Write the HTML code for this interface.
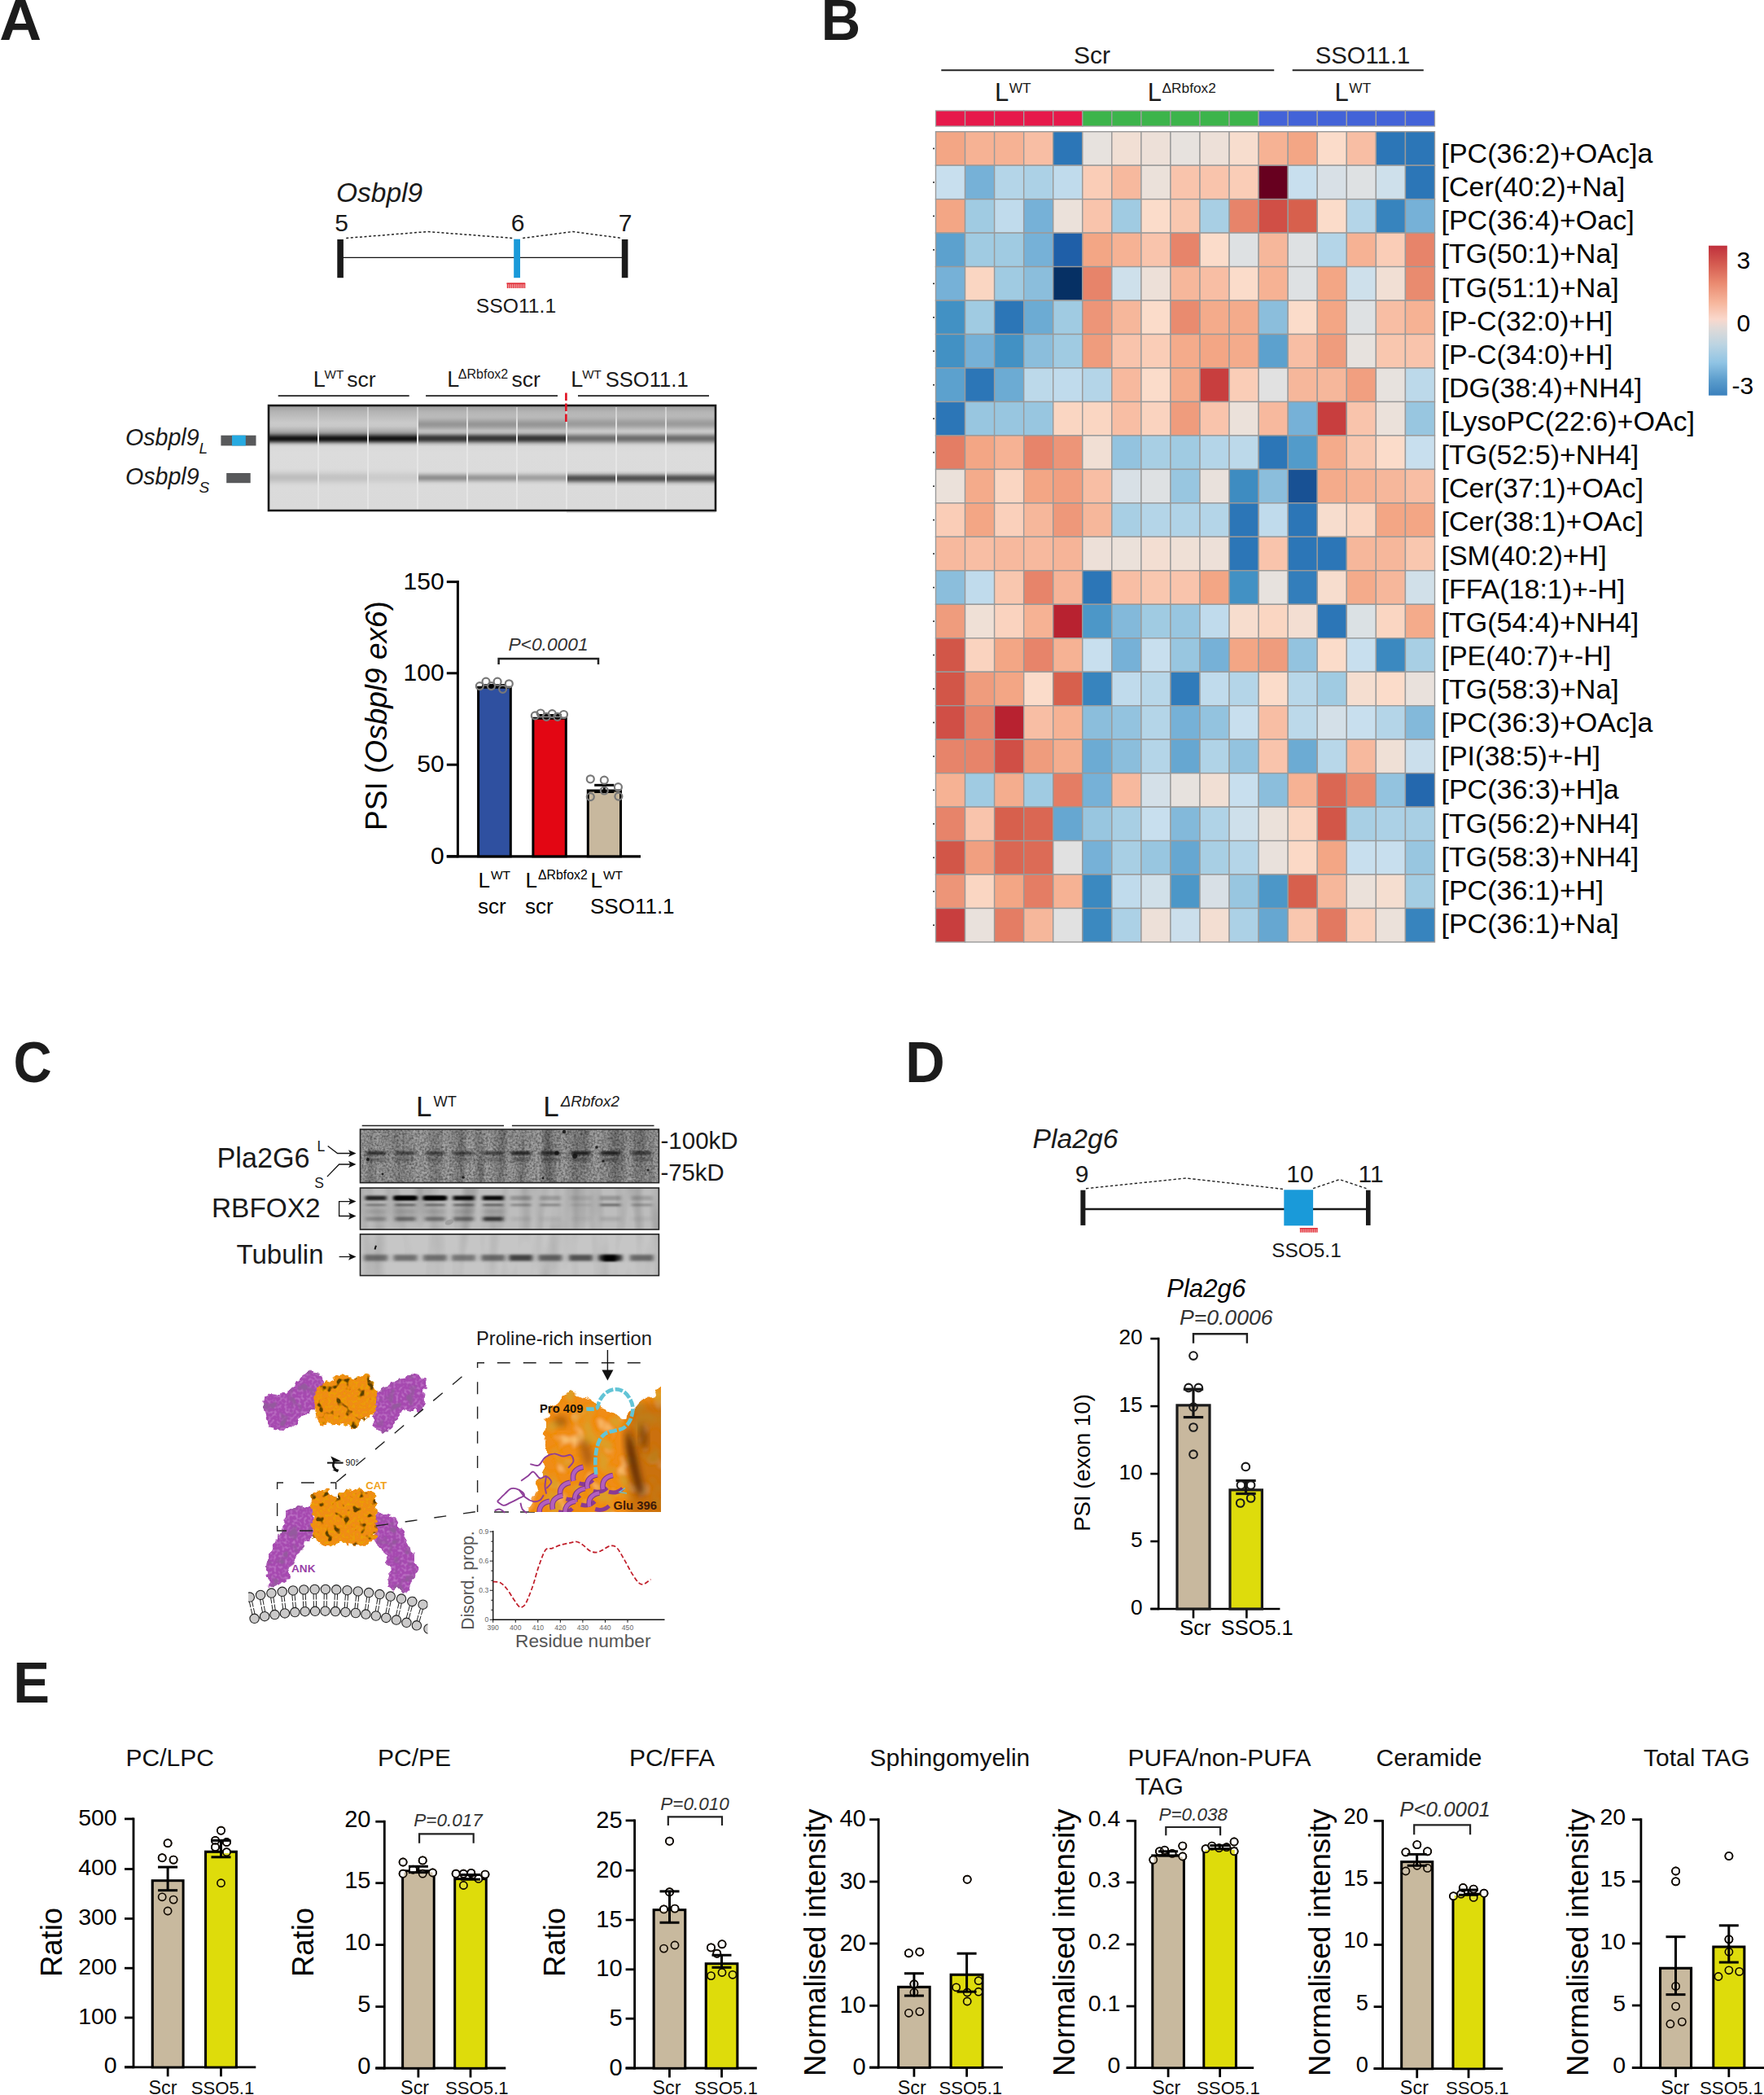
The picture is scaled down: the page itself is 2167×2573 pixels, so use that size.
<!DOCTYPE html>
<html><head><meta charset="utf-8"><title>Figure</title>
<style>html,body{margin:0;padding:0;background:#fff}svg{display:block}text{font-family:"Liberation Sans",sans-serif}</style>
</head><body>
<svg width="2167" height="2573" viewBox="0 0 2167 2573">
<rect width="2167" height="2573" fill="#fff"/>
<text transform="translate(-0.8 48.8) scale(1.005 1)" font-size="71.3" font-weight="bold" fill="#1c1c1c">A</text>
<text x="413" y="247.6" font-size="33.5" font-style="italic" fill="#1a1a1a">Osbpl9</text>
<text x="419.5" y="284" font-size="30" text-anchor="middle" fill="#1a1a1a">5</text>
<text x="636" y="284" font-size="30" text-anchor="middle" fill="#1a1a1a">6</text>
<text x="768" y="284" font-size="30" text-anchor="middle" fill="#1a1a1a">7</text>
<line x1="418" y1="316.3" x2="767" y2="316.3" stroke="#111" stroke-width="1.3"/>
<rect x="414.30" y="294.00" width="7.60" height="47.20" fill="#1a1a1a"/>
<rect x="763.80" y="294.00" width="7.60" height="47.20" fill="#1a1a1a"/>
<rect x="631.20" y="293.70" width="7.80" height="47.50" fill="#1a9ad9"/>
<path d="M425.2 292.5 L525.4 284.5 L629.9 292.5 M642.2 292.5 L703.6 284.5 L763.8 292.5" fill="none" stroke="#222" stroke-width="1.5" stroke-dasharray="3 2.6"/>
<rect x="622.50" y="347.40" width="22.70" height="6.40" fill="#f4a6a8"/>
<rect x="622.50" y="347.40" width="22.70" height="1.60" fill="#e0303a"/>
<rect x="623.00" y="348.00" width="1.10" height="6.00" fill="#e0303a"/>
<rect x="625.35" y="348.00" width="1.10" height="6.00" fill="#e0303a"/>
<rect x="627.70" y="348.00" width="1.10" height="6.00" fill="#e0303a"/>
<rect x="630.05" y="348.00" width="1.10" height="6.00" fill="#e0303a"/>
<rect x="632.40" y="348.00" width="1.10" height="6.00" fill="#e0303a"/>
<rect x="634.75" y="348.00" width="1.10" height="6.00" fill="#e0303a"/>
<rect x="637.10" y="348.00" width="1.10" height="6.00" fill="#e0303a"/>
<rect x="639.45" y="348.00" width="1.10" height="6.00" fill="#e0303a"/>
<rect x="641.80" y="348.00" width="1.10" height="6.00" fill="#e0303a"/>
<rect x="644.15" y="348.00" width="1.10" height="6.00" fill="#e0303a"/>
<text x="634" y="384" font-size="24.7" text-anchor="middle" fill="#1a1a1a">SSO11.1</text>
<text x="384.7" y="474.8" font-size="27" fill="#1a1a1a">L</text>
<text x="398.6" y="464.8" font-size="15.2" fill="#1a1a1a">WT</text>
<text x="426.3" y="474.8" font-size="26.5" fill="#1a1a1a">scr</text>
<text x="549.3" y="474.8" font-size="27" fill="#1a1a1a">L</text>
<text x="562.8" y="464.8" font-size="16" fill="#1a1a1a">ΔRbfox2</text>
<text x="628.6" y="474.8" font-size="26.5" fill="#1a1a1a">scr</text>
<text x="701.3" y="474.8" font-size="27" fill="#1a1a1a">L</text>
<text x="715.2" y="464.8" font-size="15.2" fill="#1a1a1a">WT</text>
<text x="743.7" y="474.8" font-size="25.6" fill="#1a1a1a">SSO11.1</text>
<line x1="341.7" y1="486.2" x2="502.7" y2="486.2" stroke="#222" stroke-width="1.8"/>
<line x1="523.1" y1="486.2" x2="685" y2="486.2" stroke="#222" stroke-width="1.8"/>
<line x1="710" y1="486.2" x2="871" y2="486.2" stroke="#222" stroke-width="1.8"/>
<defs>
<linearGradient id="gelbg" x1="0" y1="0" x2="0" y2="1">
<stop offset="0" stop-color="#9c9c9c"/><stop offset="0.06" stop-color="#b4b4b4"/><stop offset="0.2" stop-color="#d2d2d2"/><stop offset="0.45" stop-color="#dcdcdc"/><stop offset="1" stop-color="#dadada"/></linearGradient>
<filter id="bl2" x="-5%" y="-200%" width="110%" height="500%"><feGaussianBlur stdDeviation="0 2.6"/></filter>
<filter id="bl3" x="-5%" y="-200%" width="110%" height="500%"><feGaussianBlur stdDeviation="0 3.6"/></filter>
</defs>
<rect x="330.00" y="498.00" width="549.00" height="129.00" fill="url(#gelbg)"/>
<rect x="696.00" y="627.00" width="183.00" height="3.00" fill="#e4e4e4"/>
<g clip-path="none">
<rect x="331.00" y="534.00" width="59.00" height="9.00" fill="#000" opacity="1.0" filter="url(#bl2)"/>
<rect x="331.00" y="526.00" width="59.00" height="10.00" fill="#555" opacity="0.35" filter="url(#bl3)"/>
<rect x="331.00" y="582.00" width="59.00" height="9.00" fill="#9a9a9a" opacity="0.55" filter="url(#bl3)"/>
<rect x="392.00" y="534.00" width="59.00" height="9.00" fill="#000" opacity="1.0" filter="url(#bl2)"/>
<rect x="392.00" y="526.00" width="59.00" height="10.00" fill="#555" opacity="0.35" filter="url(#bl3)"/>
<rect x="392.00" y="582.00" width="59.00" height="9.00" fill="#9a9a9a" opacity="0.45" filter="url(#bl3)"/>
<rect x="453.00" y="534.00" width="59.00" height="9.00" fill="#000" opacity="1.0" filter="url(#bl2)"/>
<rect x="453.00" y="526.00" width="59.00" height="10.00" fill="#555" opacity="0.35" filter="url(#bl3)"/>
<rect x="453.00" y="582.00" width="59.00" height="9.00" fill="#9a9a9a" opacity="0.3" filter="url(#bl3)"/>
<rect x="514.00" y="516.50" width="59.00" height="10.00" fill="#777" opacity="0.75" filter="url(#bl3)"/>
<rect x="514.00" y="534.00" width="59.00" height="9.00" fill="#222" opacity="0.95" filter="url(#bl2)"/>
<rect x="514.00" y="583.30" width="59.00" height="7.00" fill="#777" opacity="0.9" filter="url(#bl2)"/>
<rect x="575.00" y="516.50" width="59.00" height="10.00" fill="#777" opacity="0.75" filter="url(#bl3)"/>
<rect x="575.00" y="534.00" width="59.00" height="9.00" fill="#222" opacity="0.95" filter="url(#bl2)"/>
<rect x="575.00" y="583.30" width="59.00" height="7.00" fill="#777" opacity="0.8" filter="url(#bl2)"/>
<rect x="636.00" y="516.50" width="59.00" height="10.00" fill="#777" opacity="0.75" filter="url(#bl3)"/>
<rect x="636.00" y="534.00" width="59.00" height="9.00" fill="#222" opacity="0.95" filter="url(#bl2)"/>
<rect x="636.00" y="583.30" width="59.00" height="7.00" fill="#777" opacity="0.7" filter="url(#bl2)"/>
<rect x="697.00" y="515.50" width="59.00" height="10.00" fill="#808080" opacity="0.75" filter="url(#bl3)"/>
<rect x="697.00" y="534.00" width="59.00" height="9.00" fill="#5a5a5a" opacity="0.9" filter="url(#bl2)"/>
<rect x="697.00" y="583.50" width="59.00" height="8.00" fill="#333" opacity="0.92" filter="url(#bl2)"/>
<rect x="758.00" y="515.50" width="59.00" height="10.00" fill="#808080" opacity="0.75" filter="url(#bl3)"/>
<rect x="758.00" y="534.00" width="59.00" height="9.00" fill="#5a5a5a" opacity="0.9" filter="url(#bl2)"/>
<rect x="758.00" y="583.50" width="59.00" height="8.00" fill="#333" opacity="0.92" filter="url(#bl2)"/>
<rect x="819.00" y="515.50" width="59.00" height="10.00" fill="#808080" opacity="0.75" filter="url(#bl3)"/>
<rect x="819.00" y="534.00" width="59.00" height="9.00" fill="#5a5a5a" opacity="0.9" filter="url(#bl2)"/>
<rect x="819.00" y="583.50" width="59.00" height="8.00" fill="#333" opacity="0.92" filter="url(#bl2)"/>
</g>
<line x1="391.0" y1="500" x2="391.0" y2="627" stroke="#f0f0f0" stroke-width="1.2" opacity="0.85"/>
<line x1="452.0" y1="500" x2="452.0" y2="627" stroke="#f0f0f0" stroke-width="1.2" opacity="0.85"/>
<line x1="513.0" y1="500" x2="513.0" y2="627" stroke="#f0f0f0" stroke-width="1.2" opacity="0.85"/>
<line x1="574.0" y1="500" x2="574.0" y2="627" stroke="#f0f0f0" stroke-width="1.2" opacity="0.85"/>
<line x1="635.0" y1="500" x2="635.0" y2="627" stroke="#f0f0f0" stroke-width="1.2" opacity="0.85"/>
<line x1="696.0" y1="500" x2="696.0" y2="627" stroke="#f0f0f0" stroke-width="1.2" opacity="0.85"/>
<line x1="757.0" y1="500" x2="757.0" y2="627" stroke="#f0f0f0" stroke-width="1.2" opacity="0.85"/>
<line x1="818.0" y1="500" x2="818.0" y2="627" stroke="#f0f0f0" stroke-width="1.2" opacity="0.85"/>
<rect x="330.00" y="498.00" width="549.00" height="129.00" fill="none" stroke="#1a1a1a" stroke-width="2.6"/>
<line x1="695.4" y1="482.5" x2="695.4" y2="518" stroke="#e01020" stroke-width="2.6" stroke-dasharray="9.5 3.5"/>
<text x="154" y="546.5" font-size="28.6" font-style="italic" fill="#1a1a1a">Osbpl9<tspan font-size="19" dy="10">L</tspan></text>
<text x="154" y="595" font-size="28.6" font-style="italic" fill="#1a1a1a">Osbpl9<tspan font-size="19" dy="10">S</tspan></text>
<rect x="271.40" y="534.70" width="43.10" height="12.70" fill="#58595b"/>
<rect x="285.00" y="534.70" width="16.80" height="12.70" fill="#27aae1"/>
<rect x="278.20" y="581.00" width="29.50" height="12.20" fill="#58595b"/>
<line x1="562.4" y1="713.1" x2="562.4" y2="1053.3" stroke="#000" stroke-width="3"/>
<line x1="548.8" y1="1051.8" x2="787" y2="1051.8" stroke="#000" stroke-width="3.2"/>
<line x1="548.8" y1="714.6" x2="562.4" y2="714.6" stroke="#000" stroke-width="3"/>
<text x="545.6" y="723.65" font-size="30" text-anchor="end" fill="#000">150</text>
<line x1="548.8" y1="826.8" x2="562.4" y2="826.8" stroke="#000" stroke-width="3"/>
<text x="545.6" y="835.8499999999999" font-size="30" text-anchor="end" fill="#000">100</text>
<line x1="548.8" y1="939.2" x2="562.4" y2="939.2" stroke="#000" stroke-width="3"/>
<text x="545.6" y="948.25" font-size="30" text-anchor="end" fill="#000">50</text>
<line x1="548.8" y1="1051.8" x2="562.4" y2="1051.8" stroke="#000" stroke-width="3"/>
<text x="545.6" y="1060.85" font-size="30" text-anchor="end" fill="#000">0</text>
<rect x="587.60" y="844.20" width="39.70" height="207.60" fill="#2f50a0" stroke="#000" stroke-width="3"/>
<rect x="654.90" y="882.20" width="40.40" height="169.60" fill="#e30613" stroke="#000" stroke-width="3"/>
<rect x="722.30" y="971.00" width="40.20" height="80.80" fill="#c8b89e" stroke="#000" stroke-width="3"/>
<line x1="742.3" y1="964.3" x2="742.3" y2="972" stroke="#000" stroke-width="3"/>
<line x1="730.2" y1="964.3" x2="754.3" y2="964.3" stroke="#000" stroke-width="3"/>
<line x1="730.2" y1="972.5" x2="754.3" y2="972.5" stroke="#000" stroke-width="3"/>
<line x1="592" y1="841.5" x2="622" y2="841.5" stroke="#000" stroke-width="3"/>
<line x1="660" y1="878.5" x2="690" y2="878.5" stroke="#000" stroke-width="3"/>
<circle cx="589.3" cy="842.6" r="4.5" fill="none" stroke="#787878" stroke-width="2.2"/>
<circle cx="597.0" cy="837.2" r="4.5" fill="none" stroke="#787878" stroke-width="2.2"/>
<circle cx="603.5" cy="842.6" r="4.5" fill="none" stroke="#787878" stroke-width="2.2"/>
<circle cx="611.1" cy="837.2" r="4.5" fill="none" stroke="#787878" stroke-width="2.2"/>
<circle cx="617.6" cy="846.3" r="4.5" fill="none" stroke="#787878" stroke-width="2.2"/>
<circle cx="625.3" cy="839.8" r="4.5" fill="none" stroke="#787878" stroke-width="2.2"/>
<circle cx="657.3" cy="878.9" r="4.5" fill="none" stroke="#787878" stroke-width="2.2"/>
<circle cx="664.1" cy="876.0" r="4.5" fill="none" stroke="#787878" stroke-width="2.2"/>
<circle cx="671.2" cy="880.3" r="4.5" fill="none" stroke="#787878" stroke-width="2.2"/>
<circle cx="678.3" cy="876.6" r="4.5" fill="none" stroke="#787878" stroke-width="2.2"/>
<circle cx="684.8" cy="880.3" r="4.5" fill="none" stroke="#787878" stroke-width="2.2"/>
<circle cx="692.5" cy="877.5" r="4.5" fill="none" stroke="#787878" stroke-width="2.2"/>
<circle cx="725.3" cy="956.8" r="4.5" fill="none" stroke="#787878" stroke-width="2.2"/>
<circle cx="742.3" cy="958.2" r="4.5" fill="none" stroke="#787878" stroke-width="2.2"/>
<circle cx="759.4" cy="966.7" r="4.5" fill="none" stroke="#787878" stroke-width="2.2"/>
<circle cx="742.3" cy="971.0" r="4.5" fill="none" stroke="#787878" stroke-width="2.2"/>
<circle cx="725.3" cy="978.6" r="4.5" fill="none" stroke="#787878" stroke-width="2.2"/>
<circle cx="759.9" cy="978.1" r="4.5" fill="none" stroke="#787878" stroke-width="2.2"/>
<path d="M612.6 816 V809 H735 V816" fill="none" stroke="#222" stroke-width="2.5"/>
<text x="673.5" y="798.5" font-size="22.8" text-anchor="middle" font-style="italic" fill="#333">P&lt;0.0001</text>
<text transform="translate(475 879) rotate(-90)" font-size="37" text-anchor="middle" fill="#000">PSI (<tspan font-style="italic">Osbpl9 ex6</tspan>)</text>
<text x="587.5" y="1089.8" font-size="26" fill="#000">L<tspan font-size="15.5" dy="-9.6" dx="1">WT</tspan></text>
<text x="587.0" y="1122" font-size="26" fill="#000">scr</text>
<text x="645.6" y="1089.8" font-size="26" fill="#000">L<tspan font-size="15.8" dy="-9.6" dx="1">ΔRbfox2</tspan></text>
<text x="645.1" y="1122" font-size="26" fill="#000">scr</text>
<text x="725.5" y="1089.8" font-size="26" fill="#000">L<tspan font-size="15.5" dy="-9.6" dx="1">WT</tspan></text>
<text x="725.0" y="1122" font-size="26" fill="#000">SSO11.1</text>

<text transform="translate(1008.7 48.8) scale(0.94 1)" font-size="71.3" font-weight="bold" fill="#1c1c1c">B</text>
<text x="1341.5" y="77.9" font-size="30" text-anchor="middle" fill="#1a1a1a">Scr</text>
<text x="1674" y="77.9" font-size="29.3" text-anchor="middle" fill="#1a1a1a">SSO11.1</text>
<line x1="1156.3" y1="86.2" x2="1565.2" y2="86.2" stroke="#222" stroke-width="2"/>
<line x1="1587.7" y1="86.2" x2="1748.8" y2="86.2" stroke="#222" stroke-width="2"/>
<text x="1222" y="124.3" font-size="31" fill="#1a1a1a">L<tspan font-size="17.3" dy="-10.2" dx="0.5">WT</tspan></text>
<text x="1409.8" y="124.3" font-size="31" fill="#1a1a1a">L<tspan font-size="17.3" dy="-10.2" dx="0.5">ΔRbfox2</tspan></text>
<text x="1639.6" y="124.3" font-size="31" fill="#1a1a1a">L<tspan font-size="17.3" dy="-10.2" dx="0.5">WT</tspan></text>
<g stroke="#a0a0a0" stroke-width="1.3">
<rect x="1149.50" y="136.00" width="36.06" height="19.00" fill="#e6194b"/>
<rect x="1185.56" y="136.00" width="36.06" height="19.00" fill="#e6194b"/>
<rect x="1221.62" y="136.00" width="36.06" height="19.00" fill="#e6194b"/>
<rect x="1257.68" y="136.00" width="36.06" height="19.00" fill="#e6194b"/>
<rect x="1293.74" y="136.00" width="36.06" height="19.00" fill="#e6194b"/>
<rect x="1329.79" y="136.00" width="36.06" height="19.00" fill="#3cb44b"/>
<rect x="1365.85" y="136.00" width="36.06" height="19.00" fill="#3cb44b"/>
<rect x="1401.91" y="136.00" width="36.06" height="19.00" fill="#3cb44b"/>
<rect x="1437.97" y="136.00" width="36.06" height="19.00" fill="#3cb44b"/>
<rect x="1474.03" y="136.00" width="36.06" height="19.00" fill="#3cb44b"/>
<rect x="1510.09" y="136.00" width="36.06" height="19.00" fill="#3cb44b"/>
<rect x="1546.15" y="136.00" width="36.06" height="19.00" fill="#4363d8"/>
<rect x="1582.21" y="136.00" width="36.06" height="19.00" fill="#4363d8"/>
<rect x="1618.26" y="136.00" width="36.06" height="19.00" fill="#4363d8"/>
<rect x="1654.32" y="136.00" width="36.06" height="19.00" fill="#4363d8"/>
<rect x="1690.38" y="136.00" width="36.06" height="19.00" fill="#4363d8"/>
<rect x="1726.44" y="136.00" width="36.06" height="19.00" fill="#4363d8"/>
</g>
<g stroke="#9a9a9a" stroke-width="1.4">
<rect x="1149.50" y="161.70" width="36.06" height="41.47" fill="#f3a685"/>
<rect x="1185.56" y="161.70" width="36.06" height="41.47" fill="#f6b294"/>
<rect x="1221.62" y="161.70" width="36.06" height="41.47" fill="#f6b294"/>
<rect x="1257.68" y="161.70" width="36.06" height="41.47" fill="#f8bea4"/>
<rect x="1293.74" y="161.70" width="36.06" height="41.47" fill="#2c76b7"/>
<rect x="1329.79" y="161.70" width="36.06" height="41.47" fill="#e7e2de"/>
<rect x="1365.85" y="161.70" width="36.06" height="41.47" fill="#f1dfd4"/>
<rect x="1401.91" y="161.70" width="36.06" height="41.47" fill="#ede0d8"/>
<rect x="1437.97" y="161.70" width="36.06" height="41.47" fill="#e7e2de"/>
<rect x="1474.03" y="161.70" width="36.06" height="41.47" fill="#ede0d8"/>
<rect x="1510.09" y="161.70" width="36.06" height="41.47" fill="#f7ddce"/>
<rect x="1546.15" y="161.70" width="36.06" height="41.47" fill="#f6b294"/>
<rect x="1582.21" y="161.70" width="36.06" height="41.47" fill="#f3a685"/>
<rect x="1618.26" y="161.70" width="36.06" height="41.47" fill="#fbdcca"/>
<rect x="1654.32" y="161.70" width="36.06" height="41.47" fill="#f8bea4"/>
<rect x="1690.38" y="161.70" width="36.06" height="41.47" fill="#2c76b7"/>
<rect x="1726.44" y="161.70" width="36.06" height="41.47" fill="#2c76b7"/>
<rect x="1149.50" y="203.17" width="36.06" height="41.47" fill="#c8dfee"/>
<rect x="1185.56" y="203.17" width="36.06" height="41.47" fill="#76b1d7"/>
<rect x="1221.62" y="203.17" width="36.06" height="41.47" fill="#b4d5e8"/>
<rect x="1257.68" y="203.17" width="36.06" height="41.47" fill="#acd1e6"/>
<rect x="1293.74" y="203.17" width="36.06" height="41.47" fill="#c0dbec"/>
<rect x="1329.79" y="203.17" width="36.06" height="41.47" fill="#facdb7"/>
<rect x="1365.85" y="203.17" width="36.06" height="41.47" fill="#f7b99e"/>
<rect x="1401.91" y="203.17" width="36.06" height="41.47" fill="#ebe1da"/>
<rect x="1437.97" y="203.17" width="36.06" height="41.47" fill="#f9c4ac"/>
<rect x="1474.03" y="203.17" width="36.06" height="41.47" fill="#f9c4ac"/>
<rect x="1510.09" y="203.17" width="36.06" height="41.47" fill="#facdb7"/>
<rect x="1546.15" y="203.17" width="36.06" height="41.47" fill="#67001f"/>
<rect x="1582.21" y="203.17" width="36.06" height="41.47" fill="#c8dfee"/>
<rect x="1618.26" y="203.17" width="36.06" height="41.47" fill="#d8e0e6"/>
<rect x="1654.32" y="203.17" width="36.06" height="41.47" fill="#dee1e3"/>
<rect x="1690.38" y="203.17" width="36.06" height="41.47" fill="#cee0eb"/>
<rect x="1726.44" y="203.17" width="36.06" height="41.47" fill="#2c76b7"/>
<rect x="1149.50" y="244.64" width="36.06" height="41.47" fill="#f3a685"/>
<rect x="1185.56" y="244.64" width="36.06" height="41.47" fill="#a0cbe2"/>
<rect x="1221.62" y="244.64" width="36.06" height="41.47" fill="#c0dbec"/>
<rect x="1257.68" y="244.64" width="36.06" height="41.47" fill="#76b1d7"/>
<rect x="1293.74" y="244.64" width="36.06" height="41.47" fill="#ebe1da"/>
<rect x="1329.79" y="244.64" width="36.06" height="41.47" fill="#f9c4ac"/>
<rect x="1365.85" y="244.64" width="36.06" height="41.47" fill="#a0cbe2"/>
<rect x="1401.91" y="244.64" width="36.06" height="41.47" fill="#fbdcca"/>
<rect x="1437.97" y="244.64" width="36.06" height="41.47" fill="#f9c7af"/>
<rect x="1474.03" y="244.64" width="36.06" height="41.47" fill="#a8cfe4"/>
<rect x="1510.09" y="244.64" width="36.06" height="41.47" fill="#e7846a"/>
<rect x="1546.15" y="244.64" width="36.06" height="41.47" fill="#d04f46"/>
<rect x="1582.21" y="244.64" width="36.06" height="41.47" fill="#d7604d"/>
<rect x="1618.26" y="244.64" width="36.06" height="41.47" fill="#fbdcca"/>
<rect x="1654.32" y="244.64" width="36.06" height="41.47" fill="#b4d5e8"/>
<rect x="1690.38" y="244.64" width="36.06" height="41.47" fill="#3784be"/>
<rect x="1726.44" y="244.64" width="36.06" height="41.47" fill="#76b1d7"/>
<rect x="1149.50" y="286.11" width="36.06" height="41.47" fill="#5ca1ce"/>
<rect x="1185.56" y="286.11" width="36.06" height="41.47" fill="#a0cbe2"/>
<rect x="1221.62" y="286.11" width="36.06" height="41.47" fill="#a0cbe2"/>
<rect x="1257.68" y="286.11" width="36.06" height="41.47" fill="#76b1d7"/>
<rect x="1293.74" y="286.11" width="36.06" height="41.47" fill="#1f5fa8"/>
<rect x="1329.79" y="286.11" width="36.06" height="41.47" fill="#f3a685"/>
<rect x="1365.85" y="286.11" width="36.06" height="41.47" fill="#f6b294"/>
<rect x="1401.91" y="286.11" width="36.06" height="41.47" fill="#f9c4ac"/>
<rect x="1437.97" y="286.11" width="36.06" height="41.47" fill="#e7846a"/>
<rect x="1474.03" y="286.11" width="36.06" height="41.47" fill="#fbdcca"/>
<rect x="1510.09" y="286.11" width="36.06" height="41.47" fill="#dee1e3"/>
<rect x="1546.15" y="286.11" width="36.06" height="41.47" fill="#f6b79b"/>
<rect x="1582.21" y="286.11" width="36.06" height="41.47" fill="#dee1e3"/>
<rect x="1618.26" y="286.11" width="36.06" height="41.47" fill="#b4d5e8"/>
<rect x="1654.32" y="286.11" width="36.06" height="41.47" fill="#f6b294"/>
<rect x="1690.38" y="286.11" width="36.06" height="41.47" fill="#facdb7"/>
<rect x="1726.44" y="286.11" width="36.06" height="41.47" fill="#e7846a"/>
<rect x="1149.50" y="327.58" width="36.06" height="41.47" fill="#76b1d7"/>
<rect x="1185.56" y="327.58" width="36.06" height="41.47" fill="#fad6c2"/>
<rect x="1221.62" y="327.58" width="36.06" height="41.47" fill="#a0cbe2"/>
<rect x="1257.68" y="327.58" width="36.06" height="41.47" fill="#8bbedc"/>
<rect x="1293.74" y="327.58" width="36.06" height="41.47" fill="#063064"/>
<rect x="1329.79" y="327.58" width="36.06" height="41.47" fill="#e7846a"/>
<rect x="1365.85" y="327.58" width="36.06" height="41.47" fill="#cee0eb"/>
<rect x="1401.91" y="327.58" width="36.06" height="41.47" fill="#ede0d8"/>
<rect x="1437.97" y="327.58" width="36.06" height="41.47" fill="#f6b79b"/>
<rect x="1474.03" y="327.58" width="36.06" height="41.47" fill="#f8bea4"/>
<rect x="1510.09" y="327.58" width="36.06" height="41.47" fill="#fbdcca"/>
<rect x="1546.15" y="327.58" width="36.06" height="41.47" fill="#f6b294"/>
<rect x="1582.21" y="327.58" width="36.06" height="41.47" fill="#dee1e3"/>
<rect x="1618.26" y="327.58" width="36.06" height="41.47" fill="#f3a685"/>
<rect x="1654.32" y="327.58" width="36.06" height="41.47" fill="#cee0eb"/>
<rect x="1690.38" y="327.58" width="36.06" height="41.47" fill="#f1dfd4"/>
<rect x="1726.44" y="327.58" width="36.06" height="41.47" fill="#e98b6f"/>
<rect x="1149.50" y="369.05" width="36.06" height="41.47" fill="#4291c4"/>
<rect x="1185.56" y="369.05" width="36.06" height="41.47" fill="#a0cbe2"/>
<rect x="1221.62" y="369.05" width="36.06" height="41.47" fill="#2c76b7"/>
<rect x="1257.68" y="369.05" width="36.06" height="41.47" fill="#6cabd3"/>
<rect x="1293.74" y="369.05" width="36.06" height="41.47" fill="#a0cbe2"/>
<rect x="1329.79" y="369.05" width="36.06" height="41.47" fill="#ed9578"/>
<rect x="1365.85" y="369.05" width="36.06" height="41.47" fill="#f6b79b"/>
<rect x="1401.91" y="369.05" width="36.06" height="41.47" fill="#fbdcca"/>
<rect x="1437.97" y="369.05" width="36.06" height="41.47" fill="#e98b6f"/>
<rect x="1474.03" y="369.05" width="36.06" height="41.47" fill="#f4ab8b"/>
<rect x="1510.09" y="369.05" width="36.06" height="41.47" fill="#f4ab8b"/>
<rect x="1546.15" y="369.05" width="36.06" height="41.47" fill="#8bbedc"/>
<rect x="1582.21" y="369.05" width="36.06" height="41.47" fill="#fbdcca"/>
<rect x="1618.26" y="369.05" width="36.06" height="41.47" fill="#f3a685"/>
<rect x="1654.32" y="369.05" width="36.06" height="41.47" fill="#dee1e3"/>
<rect x="1690.38" y="369.05" width="36.06" height="41.47" fill="#f8bea4"/>
<rect x="1726.44" y="369.05" width="36.06" height="41.47" fill="#f6b294"/>
<rect x="1149.50" y="410.52" width="36.06" height="41.47" fill="#4291c4"/>
<rect x="1185.56" y="410.52" width="36.06" height="41.47" fill="#76b1d7"/>
<rect x="1221.62" y="410.52" width="36.06" height="41.47" fill="#4291c4"/>
<rect x="1257.68" y="410.52" width="36.06" height="41.47" fill="#8bbedc"/>
<rect x="1293.74" y="410.52" width="36.06" height="41.47" fill="#a0cbe2"/>
<rect x="1329.79" y="410.52" width="36.06" height="41.47" fill="#ef9c7d"/>
<rect x="1365.85" y="410.52" width="36.06" height="41.47" fill="#f9c4ac"/>
<rect x="1401.91" y="410.52" width="36.06" height="41.47" fill="#facdb7"/>
<rect x="1437.97" y="410.52" width="36.06" height="41.47" fill="#f4ab8b"/>
<rect x="1474.03" y="410.52" width="36.06" height="41.47" fill="#f3a685"/>
<rect x="1510.09" y="410.52" width="36.06" height="41.47" fill="#f4ab8b"/>
<rect x="1546.15" y="410.52" width="36.06" height="41.47" fill="#5ca1ce"/>
<rect x="1582.21" y="410.52" width="36.06" height="41.47" fill="#f8bea4"/>
<rect x="1618.26" y="410.52" width="36.06" height="41.47" fill="#ef9c7d"/>
<rect x="1654.32" y="410.52" width="36.06" height="41.47" fill="#e7e2de"/>
<rect x="1690.38" y="410.52" width="36.06" height="41.47" fill="#f9c7af"/>
<rect x="1726.44" y="410.52" width="36.06" height="41.47" fill="#f9c4ac"/>
<rect x="1149.50" y="452.00" width="36.06" height="41.47" fill="#5ca1ce"/>
<rect x="1185.56" y="452.00" width="36.06" height="41.47" fill="#2c76b7"/>
<rect x="1221.62" y="452.00" width="36.06" height="41.47" fill="#6cabd3"/>
<rect x="1257.68" y="452.00" width="36.06" height="41.47" fill="#bcd9ea"/>
<rect x="1293.74" y="452.00" width="36.06" height="41.47" fill="#c0dbec"/>
<rect x="1329.79" y="452.00" width="36.06" height="41.47" fill="#b4d5e8"/>
<rect x="1365.85" y="452.00" width="36.06" height="41.47" fill="#f7b99e"/>
<rect x="1401.91" y="452.00" width="36.06" height="41.47" fill="#fbdcca"/>
<rect x="1437.97" y="452.00" width="36.06" height="41.47" fill="#f4ab8b"/>
<rect x="1474.03" y="452.00" width="36.06" height="41.47" fill="#c83e3e"/>
<rect x="1510.09" y="452.00" width="36.06" height="41.47" fill="#facdb7"/>
<rect x="1546.15" y="452.00" width="36.06" height="41.47" fill="#e1e1e1"/>
<rect x="1582.21" y="452.00" width="36.06" height="41.47" fill="#f6b79b"/>
<rect x="1618.26" y="452.00" width="36.06" height="41.47" fill="#f6b79b"/>
<rect x="1654.32" y="452.00" width="36.06" height="41.47" fill="#f19f80"/>
<rect x="1690.38" y="452.00" width="36.06" height="41.47" fill="#e7e2de"/>
<rect x="1726.44" y="452.00" width="36.06" height="41.47" fill="#bcd9ea"/>
<rect x="1149.50" y="493.47" width="36.06" height="41.47" fill="#2c76b7"/>
<rect x="1185.56" y="493.47" width="36.06" height="41.47" fill="#98c6e0"/>
<rect x="1221.62" y="493.47" width="36.06" height="41.47" fill="#98c6e0"/>
<rect x="1257.68" y="493.47" width="36.06" height="41.47" fill="#98c6e0"/>
<rect x="1293.74" y="493.47" width="36.06" height="41.47" fill="#fad6c2"/>
<rect x="1329.79" y="493.47" width="36.06" height="41.47" fill="#fad6c2"/>
<rect x="1365.85" y="493.47" width="36.06" height="41.47" fill="#f8bea4"/>
<rect x="1401.91" y="493.47" width="36.06" height="41.47" fill="#fad3bf"/>
<rect x="1437.97" y="493.47" width="36.06" height="41.47" fill="#ef9c7d"/>
<rect x="1474.03" y="493.47" width="36.06" height="41.47" fill="#f9c4ac"/>
<rect x="1510.09" y="493.47" width="36.06" height="41.47" fill="#ebe1da"/>
<rect x="1546.15" y="493.47" width="36.06" height="41.47" fill="#f7b99e"/>
<rect x="1582.21" y="493.47" width="36.06" height="41.47" fill="#76b1d7"/>
<rect x="1618.26" y="493.47" width="36.06" height="41.47" fill="#c83e3e"/>
<rect x="1654.32" y="493.47" width="36.06" height="41.47" fill="#f9c4ac"/>
<rect x="1690.38" y="493.47" width="36.06" height="41.47" fill="#ebe1da"/>
<rect x="1726.44" y="493.47" width="36.06" height="41.47" fill="#98c6e0"/>
<rect x="1149.50" y="534.94" width="36.06" height="41.47" fill="#e47d64"/>
<rect x="1185.56" y="534.94" width="36.06" height="41.47" fill="#f3a685"/>
<rect x="1221.62" y="534.94" width="36.06" height="41.47" fill="#f6b294"/>
<rect x="1257.68" y="534.94" width="36.06" height="41.47" fill="#e7846a"/>
<rect x="1293.74" y="534.94" width="36.06" height="41.47" fill="#ed9578"/>
<rect x="1329.79" y="534.94" width="36.06" height="41.47" fill="#f1dfd4"/>
<rect x="1365.85" y="534.94" width="36.06" height="41.47" fill="#93c3df"/>
<rect x="1401.91" y="534.94" width="36.06" height="41.47" fill="#a8cfe4"/>
<rect x="1437.97" y="534.94" width="36.06" height="41.47" fill="#a0cbe2"/>
<rect x="1474.03" y="534.94" width="36.06" height="41.47" fill="#b4d5e8"/>
<rect x="1510.09" y="534.94" width="36.06" height="41.47" fill="#bcd9ea"/>
<rect x="1546.15" y="534.94" width="36.06" height="41.47" fill="#2c76b7"/>
<rect x="1582.21" y="534.94" width="36.06" height="41.47" fill="#529bca"/>
<rect x="1618.26" y="534.94" width="36.06" height="41.47" fill="#f4ab8b"/>
<rect x="1654.32" y="534.94" width="36.06" height="41.47" fill="#f9c7af"/>
<rect x="1690.38" y="534.94" width="36.06" height="41.47" fill="#fbdcca"/>
<rect x="1726.44" y="534.94" width="36.06" height="41.47" fill="#c8dfee"/>
<rect x="1149.50" y="576.41" width="36.06" height="41.47" fill="#ebe1da"/>
<rect x="1185.56" y="576.41" width="36.06" height="41.47" fill="#f4ab8b"/>
<rect x="1221.62" y="576.41" width="36.06" height="41.47" fill="#fad6c2"/>
<rect x="1257.68" y="576.41" width="36.06" height="41.47" fill="#f3a685"/>
<rect x="1293.74" y="576.41" width="36.06" height="41.47" fill="#f19f80"/>
<rect x="1329.79" y="576.41" width="36.06" height="41.47" fill="#f8bea4"/>
<rect x="1365.85" y="576.41" width="36.06" height="41.47" fill="#d8e0e6"/>
<rect x="1401.91" y="576.41" width="36.06" height="41.47" fill="#dee1e3"/>
<rect x="1437.97" y="576.41" width="36.06" height="41.47" fill="#98c6e0"/>
<rect x="1474.03" y="576.41" width="36.06" height="41.47" fill="#e9e1dc"/>
<rect x="1510.09" y="576.41" width="36.06" height="41.47" fill="#3e8cc1"/>
<rect x="1546.15" y="576.41" width="36.06" height="41.47" fill="#8bbedc"/>
<rect x="1582.21" y="576.41" width="36.06" height="41.47" fill="#185194"/>
<rect x="1618.26" y="576.41" width="36.06" height="41.47" fill="#f4ab8b"/>
<rect x="1654.32" y="576.41" width="36.06" height="41.47" fill="#f6b294"/>
<rect x="1690.38" y="576.41" width="36.06" height="41.47" fill="#f6b79b"/>
<rect x="1726.44" y="576.41" width="36.06" height="41.47" fill="#f8bea4"/>
<rect x="1149.50" y="617.88" width="36.06" height="41.47" fill="#facdb7"/>
<rect x="1185.56" y="617.88" width="36.06" height="41.47" fill="#f3a685"/>
<rect x="1221.62" y="617.88" width="36.06" height="41.47" fill="#fad0bb"/>
<rect x="1257.68" y="617.88" width="36.06" height="41.47" fill="#f6b79b"/>
<rect x="1293.74" y="617.88" width="36.06" height="41.47" fill="#ee987a"/>
<rect x="1329.79" y="617.88" width="36.06" height="41.47" fill="#f6b79b"/>
<rect x="1365.85" y="617.88" width="36.06" height="41.47" fill="#a8cfe4"/>
<rect x="1401.91" y="617.88" width="36.06" height="41.47" fill="#b4d5e8"/>
<rect x="1437.97" y="617.88" width="36.06" height="41.47" fill="#b0d3e7"/>
<rect x="1474.03" y="617.88" width="36.06" height="41.47" fill="#b4d5e8"/>
<rect x="1510.09" y="617.88" width="36.06" height="41.47" fill="#2c76b7"/>
<rect x="1546.15" y="617.88" width="36.06" height="41.47" fill="#c0dbec"/>
<rect x="1582.21" y="617.88" width="36.06" height="41.47" fill="#2c76b7"/>
<rect x="1618.26" y="617.88" width="36.06" height="41.47" fill="#f7ddce"/>
<rect x="1654.32" y="617.88" width="36.06" height="41.47" fill="#fad6c2"/>
<rect x="1690.38" y="617.88" width="36.06" height="41.47" fill="#f3a685"/>
<rect x="1726.44" y="617.88" width="36.06" height="41.47" fill="#f3a685"/>
<rect x="1149.50" y="659.35" width="36.06" height="41.47" fill="#f7b99e"/>
<rect x="1185.56" y="659.35" width="36.06" height="41.47" fill="#f8bea4"/>
<rect x="1221.62" y="659.35" width="36.06" height="41.47" fill="#f7b99e"/>
<rect x="1257.68" y="659.35" width="36.06" height="41.47" fill="#f7b99e"/>
<rect x="1293.74" y="659.35" width="36.06" height="41.47" fill="#f6b498"/>
<rect x="1329.79" y="659.35" width="36.06" height="41.47" fill="#ede0d8"/>
<rect x="1365.85" y="659.35" width="36.06" height="41.47" fill="#ebe1da"/>
<rect x="1401.91" y="659.35" width="36.06" height="41.47" fill="#f3ded2"/>
<rect x="1437.97" y="659.35" width="36.06" height="41.47" fill="#efe0d6"/>
<rect x="1474.03" y="659.35" width="36.06" height="41.47" fill="#ede0d8"/>
<rect x="1510.09" y="659.35" width="36.06" height="41.47" fill="#2c76b7"/>
<rect x="1546.15" y="659.35" width="36.06" height="41.47" fill="#f9c4ac"/>
<rect x="1582.21" y="659.35" width="36.06" height="41.47" fill="#2c76b7"/>
<rect x="1618.26" y="659.35" width="36.06" height="41.47" fill="#2c76b7"/>
<rect x="1654.32" y="659.35" width="36.06" height="41.47" fill="#f6b79b"/>
<rect x="1690.38" y="659.35" width="36.06" height="41.47" fill="#f6b79b"/>
<rect x="1726.44" y="659.35" width="36.06" height="41.47" fill="#f9c7af"/>
<rect x="1149.50" y="700.82" width="36.06" height="41.47" fill="#8bbedc"/>
<rect x="1185.56" y="700.82" width="36.06" height="41.47" fill="#c0dbec"/>
<rect x="1221.62" y="700.82" width="36.06" height="41.47" fill="#f9c7af"/>
<rect x="1257.68" y="700.82" width="36.06" height="41.47" fill="#e7846a"/>
<rect x="1293.74" y="700.82" width="36.06" height="41.47" fill="#f6b498"/>
<rect x="1329.79" y="700.82" width="36.06" height="41.47" fill="#2c76b7"/>
<rect x="1365.85" y="700.82" width="36.06" height="41.47" fill="#f8bea4"/>
<rect x="1401.91" y="700.82" width="36.06" height="41.47" fill="#f9c7af"/>
<rect x="1437.97" y="700.82" width="36.06" height="41.47" fill="#f9c4ac"/>
<rect x="1474.03" y="700.82" width="36.06" height="41.47" fill="#f3a685"/>
<rect x="1510.09" y="700.82" width="36.06" height="41.47" fill="#4291c4"/>
<rect x="1546.15" y="700.82" width="36.06" height="41.47" fill="#e7e2de"/>
<rect x="1582.21" y="700.82" width="36.06" height="41.47" fill="#337ebb"/>
<rect x="1618.26" y="700.82" width="36.06" height="41.47" fill="#f7ddce"/>
<rect x="1654.32" y="700.82" width="36.06" height="41.47" fill="#f4ab8b"/>
<rect x="1690.38" y="700.82" width="36.06" height="41.47" fill="#f6b79b"/>
<rect x="1726.44" y="700.82" width="36.06" height="41.47" fill="#d1e0e9"/>
<rect x="1149.50" y="742.29" width="36.06" height="41.47" fill="#ef9c7d"/>
<rect x="1185.56" y="742.29" width="36.06" height="41.47" fill="#efe0d6"/>
<rect x="1221.62" y="742.29" width="36.06" height="41.47" fill="#fad3bf"/>
<rect x="1257.68" y="742.29" width="36.06" height="41.47" fill="#f6b294"/>
<rect x="1293.74" y="742.29" width="36.06" height="41.47" fill="#b82230"/>
<rect x="1329.79" y="742.29" width="36.06" height="41.47" fill="#4c97c8"/>
<rect x="1365.85" y="742.29" width="36.06" height="41.47" fill="#83b9da"/>
<rect x="1401.91" y="742.29" width="36.06" height="41.47" fill="#a0cbe2"/>
<rect x="1437.97" y="742.29" width="36.06" height="41.47" fill="#98c6e0"/>
<rect x="1474.03" y="742.29" width="36.06" height="41.47" fill="#c0dbec"/>
<rect x="1510.09" y="742.29" width="36.06" height="41.47" fill="#f7ddce"/>
<rect x="1546.15" y="742.29" width="36.06" height="41.47" fill="#fad6c2"/>
<rect x="1582.21" y="742.29" width="36.06" height="41.47" fill="#f3ded2"/>
<rect x="1618.26" y="742.29" width="36.06" height="41.47" fill="#2c76b7"/>
<rect x="1654.32" y="742.29" width="36.06" height="41.47" fill="#dbe1e4"/>
<rect x="1690.38" y="742.29" width="36.06" height="41.47" fill="#fad6c2"/>
<rect x="1726.44" y="742.29" width="36.06" height="41.47" fill="#f4ab8b"/>
<rect x="1149.50" y="783.76" width="36.06" height="41.47" fill="#d25648"/>
<rect x="1185.56" y="783.76" width="36.06" height="41.47" fill="#fad3bf"/>
<rect x="1221.62" y="783.76" width="36.06" height="41.47" fill="#f3a685"/>
<rect x="1257.68" y="783.76" width="36.06" height="41.47" fill="#e7846a"/>
<rect x="1293.74" y="783.76" width="36.06" height="41.47" fill="#f6b294"/>
<rect x="1329.79" y="783.76" width="36.06" height="41.47" fill="#c8dfee"/>
<rect x="1365.85" y="783.76" width="36.06" height="41.47" fill="#76b1d7"/>
<rect x="1401.91" y="783.76" width="36.06" height="41.47" fill="#c8dfee"/>
<rect x="1437.97" y="783.76" width="36.06" height="41.47" fill="#98c6e0"/>
<rect x="1474.03" y="783.76" width="36.06" height="41.47" fill="#76b1d7"/>
<rect x="1510.09" y="783.76" width="36.06" height="41.47" fill="#f3a685"/>
<rect x="1546.15" y="783.76" width="36.06" height="41.47" fill="#ef9c7d"/>
<rect x="1582.21" y="783.76" width="36.06" height="41.47" fill="#93c3df"/>
<rect x="1618.26" y="783.76" width="36.06" height="41.47" fill="#fbdcca"/>
<rect x="1654.32" y="783.76" width="36.06" height="41.47" fill="#c8dfee"/>
<rect x="1690.38" y="783.76" width="36.06" height="41.47" fill="#3b89c0"/>
<rect x="1726.44" y="783.76" width="36.06" height="41.47" fill="#a8cfe4"/>
<rect x="1149.50" y="825.23" width="36.06" height="41.47" fill="#d25648"/>
<rect x="1185.56" y="825.23" width="36.06" height="41.47" fill="#ef9c7d"/>
<rect x="1221.62" y="825.23" width="36.06" height="41.47" fill="#f3a685"/>
<rect x="1257.68" y="825.23" width="36.06" height="41.47" fill="#fbdcca"/>
<rect x="1293.74" y="825.23" width="36.06" height="41.47" fill="#d7604d"/>
<rect x="1329.79" y="825.23" width="36.06" height="41.47" fill="#3784be"/>
<rect x="1365.85" y="825.23" width="36.06" height="41.47" fill="#c0dbec"/>
<rect x="1401.91" y="825.23" width="36.06" height="41.47" fill="#b8d7e9"/>
<rect x="1437.97" y="825.23" width="36.06" height="41.47" fill="#307bba"/>
<rect x="1474.03" y="825.23" width="36.06" height="41.47" fill="#c0dbec"/>
<rect x="1510.09" y="825.23" width="36.06" height="41.47" fill="#b4d5e8"/>
<rect x="1546.15" y="825.23" width="36.06" height="41.47" fill="#fbdcca"/>
<rect x="1582.21" y="825.23" width="36.06" height="41.47" fill="#b8d7e9"/>
<rect x="1618.26" y="825.23" width="36.06" height="41.47" fill="#a0cbe2"/>
<rect x="1654.32" y="825.23" width="36.06" height="41.47" fill="#f5ded0"/>
<rect x="1690.38" y="825.23" width="36.06" height="41.47" fill="#fbdcca"/>
<rect x="1726.44" y="825.23" width="36.06" height="41.47" fill="#e9e1dc"/>
<rect x="1149.50" y="866.70" width="36.06" height="41.47" fill="#d04f46"/>
<rect x="1185.56" y="866.70" width="36.06" height="41.47" fill="#e7846a"/>
<rect x="1221.62" y="866.70" width="36.06" height="41.47" fill="#b82230"/>
<rect x="1257.68" y="866.70" width="36.06" height="41.47" fill="#f8bea4"/>
<rect x="1293.74" y="866.70" width="36.06" height="41.47" fill="#f6b294"/>
<rect x="1329.79" y="866.70" width="36.06" height="41.47" fill="#8bbedc"/>
<rect x="1365.85" y="866.70" width="36.06" height="41.47" fill="#93c3df"/>
<rect x="1401.91" y="866.70" width="36.06" height="41.47" fill="#b4d5e8"/>
<rect x="1437.97" y="866.70" width="36.06" height="41.47" fill="#76b1d7"/>
<rect x="1474.03" y="866.70" width="36.06" height="41.47" fill="#93c3df"/>
<rect x="1510.09" y="866.70" width="36.06" height="41.47" fill="#c8dfee"/>
<rect x="1546.15" y="866.70" width="36.06" height="41.47" fill="#f8bea4"/>
<rect x="1582.21" y="866.70" width="36.06" height="41.47" fill="#bcd9ea"/>
<rect x="1618.26" y="866.70" width="36.06" height="41.47" fill="#d4e0e8"/>
<rect x="1654.32" y="866.70" width="36.06" height="41.47" fill="#c8dfee"/>
<rect x="1690.38" y="866.70" width="36.06" height="41.47" fill="#b4d5e8"/>
<rect x="1726.44" y="866.70" width="36.06" height="41.47" fill="#83b9da"/>
<rect x="1149.50" y="908.17" width="36.06" height="41.47" fill="#e7846a"/>
<rect x="1185.56" y="908.17" width="36.06" height="41.47" fill="#e7846a"/>
<rect x="1221.62" y="908.17" width="36.06" height="41.47" fill="#d04f46"/>
<rect x="1257.68" y="908.17" width="36.06" height="41.47" fill="#ef9c7d"/>
<rect x="1293.74" y="908.17" width="36.06" height="41.47" fill="#f4ad8e"/>
<rect x="1329.79" y="908.17" width="36.06" height="41.47" fill="#6cabd3"/>
<rect x="1365.85" y="908.17" width="36.06" height="41.47" fill="#8bbedc"/>
<rect x="1401.91" y="908.17" width="36.06" height="41.47" fill="#b4d5e8"/>
<rect x="1437.97" y="908.17" width="36.06" height="41.47" fill="#66a7d1"/>
<rect x="1474.03" y="908.17" width="36.06" height="41.47" fill="#b0d3e7"/>
<rect x="1510.09" y="908.17" width="36.06" height="41.47" fill="#93c3df"/>
<rect x="1546.15" y="908.17" width="36.06" height="41.47" fill="#f9c4ac"/>
<rect x="1582.21" y="908.17" width="36.06" height="41.47" fill="#6cabd3"/>
<rect x="1618.26" y="908.17" width="36.06" height="41.47" fill="#b8d7e9"/>
<rect x="1654.32" y="908.17" width="36.06" height="41.47" fill="#f7b99e"/>
<rect x="1690.38" y="908.17" width="36.06" height="41.47" fill="#efe0d6"/>
<rect x="1726.44" y="908.17" width="36.06" height="41.47" fill="#cbdfec"/>
<rect x="1149.50" y="949.65" width="36.06" height="41.47" fill="#f6b294"/>
<rect x="1185.56" y="949.65" width="36.06" height="41.47" fill="#a0cbe2"/>
<rect x="1221.62" y="949.65" width="36.06" height="41.47" fill="#f4ad8e"/>
<rect x="1257.68" y="949.65" width="36.06" height="41.47" fill="#a0cbe2"/>
<rect x="1293.74" y="949.65" width="36.06" height="41.47" fill="#e47d64"/>
<rect x="1329.79" y="949.65" width="36.06" height="41.47" fill="#76b1d7"/>
<rect x="1365.85" y="949.65" width="36.06" height="41.47" fill="#f7b99e"/>
<rect x="1401.91" y="949.65" width="36.06" height="41.47" fill="#d4e0e8"/>
<rect x="1437.97" y="949.65" width="36.06" height="41.47" fill="#e7e2de"/>
<rect x="1474.03" y="949.65" width="36.06" height="41.47" fill="#f1dfd4"/>
<rect x="1510.09" y="949.65" width="36.06" height="41.47" fill="#c8dfee"/>
<rect x="1546.15" y="949.65" width="36.06" height="41.47" fill="#8bbedc"/>
<rect x="1582.21" y="949.65" width="36.06" height="41.47" fill="#f6b294"/>
<rect x="1618.26" y="949.65" width="36.06" height="41.47" fill="#da6753"/>
<rect x="1654.32" y="949.65" width="36.06" height="41.47" fill="#e98b6f"/>
<rect x="1690.38" y="949.65" width="36.06" height="41.47" fill="#93c3df"/>
<rect x="1726.44" y="949.65" width="36.06" height="41.47" fill="#2468ae"/>
<rect x="1149.50" y="991.12" width="36.06" height="41.47" fill="#e7846a"/>
<rect x="1185.56" y="991.12" width="36.06" height="41.47" fill="#f9c4ac"/>
<rect x="1221.62" y="991.12" width="36.06" height="41.47" fill="#d7604d"/>
<rect x="1257.68" y="991.12" width="36.06" height="41.47" fill="#da6753"/>
<rect x="1293.74" y="991.12" width="36.06" height="41.47" fill="#66a7d1"/>
<rect x="1329.79" y="991.12" width="36.06" height="41.47" fill="#98c6e0"/>
<rect x="1365.85" y="991.12" width="36.06" height="41.47" fill="#a8cfe4"/>
<rect x="1401.91" y="991.12" width="36.06" height="41.47" fill="#c8dfee"/>
<rect x="1437.97" y="991.12" width="36.06" height="41.47" fill="#83b9da"/>
<rect x="1474.03" y="991.12" width="36.06" height="41.47" fill="#b0d3e7"/>
<rect x="1510.09" y="991.12" width="36.06" height="41.47" fill="#cee0eb"/>
<rect x="1546.15" y="991.12" width="36.06" height="41.47" fill="#ebe1da"/>
<rect x="1582.21" y="991.12" width="36.06" height="41.47" fill="#fad6c2"/>
<rect x="1618.26" y="991.12" width="36.06" height="41.47" fill="#d25648"/>
<rect x="1654.32" y="991.12" width="36.06" height="41.47" fill="#a8cfe4"/>
<rect x="1690.38" y="991.12" width="36.06" height="41.47" fill="#acd1e6"/>
<rect x="1726.44" y="991.12" width="36.06" height="41.47" fill="#a8cfe4"/>
<rect x="1149.50" y="1032.59" width="36.06" height="41.47" fill="#d25648"/>
<rect x="1185.56" y="1032.59" width="36.06" height="41.47" fill="#f19f80"/>
<rect x="1221.62" y="1032.59" width="36.06" height="41.47" fill="#da6753"/>
<rect x="1257.68" y="1032.59" width="36.06" height="41.47" fill="#dc6b56"/>
<rect x="1293.74" y="1032.59" width="36.06" height="41.47" fill="#e1e1e1"/>
<rect x="1329.79" y="1032.59" width="36.06" height="41.47" fill="#76b1d7"/>
<rect x="1365.85" y="1032.59" width="36.06" height="41.47" fill="#a8cfe4"/>
<rect x="1401.91" y="1032.59" width="36.06" height="41.47" fill="#98c6e0"/>
<rect x="1437.97" y="1032.59" width="36.06" height="41.47" fill="#66a7d1"/>
<rect x="1474.03" y="1032.59" width="36.06" height="41.47" fill="#a8cfe4"/>
<rect x="1510.09" y="1032.59" width="36.06" height="41.47" fill="#b4d5e8"/>
<rect x="1546.15" y="1032.59" width="36.06" height="41.47" fill="#e9e1dc"/>
<rect x="1582.21" y="1032.59" width="36.06" height="41.47" fill="#fbd9c6"/>
<rect x="1618.26" y="1032.59" width="36.06" height="41.47" fill="#f3a685"/>
<rect x="1654.32" y="1032.59" width="36.06" height="41.47" fill="#c8dfee"/>
<rect x="1690.38" y="1032.59" width="36.06" height="41.47" fill="#c8dfee"/>
<rect x="1726.44" y="1032.59" width="36.06" height="41.47" fill="#98c6e0"/>
<rect x="1149.50" y="1074.06" width="36.06" height="41.47" fill="#ed9578"/>
<rect x="1185.56" y="1074.06" width="36.06" height="41.47" fill="#fad6c2"/>
<rect x="1221.62" y="1074.06" width="36.06" height="41.47" fill="#f3a685"/>
<rect x="1257.68" y="1074.06" width="36.06" height="41.47" fill="#e47d64"/>
<rect x="1293.74" y="1074.06" width="36.06" height="41.47" fill="#f6b294"/>
<rect x="1329.79" y="1074.06" width="36.06" height="41.47" fill="#3b89c0"/>
<rect x="1365.85" y="1074.06" width="36.06" height="41.47" fill="#c0dbec"/>
<rect x="1401.91" y="1074.06" width="36.06" height="41.47" fill="#d1e0e9"/>
<rect x="1437.97" y="1074.06" width="36.06" height="41.47" fill="#4c97c8"/>
<rect x="1474.03" y="1074.06" width="36.06" height="41.47" fill="#d8e0e6"/>
<rect x="1510.09" y="1074.06" width="36.06" height="41.47" fill="#98c6e0"/>
<rect x="1546.15" y="1074.06" width="36.06" height="41.47" fill="#4c97c8"/>
<rect x="1582.21" y="1074.06" width="36.06" height="41.47" fill="#d7604d"/>
<rect x="1618.26" y="1074.06" width="36.06" height="41.47" fill="#f6b79b"/>
<rect x="1654.32" y="1074.06" width="36.06" height="41.47" fill="#ebe1da"/>
<rect x="1690.38" y="1074.06" width="36.06" height="41.47" fill="#f5ded0"/>
<rect x="1726.44" y="1074.06" width="36.06" height="41.47" fill="#a4cde3"/>
<rect x="1149.50" y="1115.53" width="36.06" height="41.47" fill="#c83e3e"/>
<rect x="1185.56" y="1115.53" width="36.06" height="41.47" fill="#e9e1dc"/>
<rect x="1221.62" y="1115.53" width="36.06" height="41.47" fill="#e47d64"/>
<rect x="1257.68" y="1115.53" width="36.06" height="41.47" fill="#f6b79b"/>
<rect x="1293.74" y="1115.53" width="36.06" height="41.47" fill="#e1e1e1"/>
<rect x="1329.79" y="1115.53" width="36.06" height="41.47" fill="#3b89c0"/>
<rect x="1365.85" y="1115.53" width="36.06" height="41.47" fill="#acd1e6"/>
<rect x="1401.91" y="1115.53" width="36.06" height="41.47" fill="#ede0d8"/>
<rect x="1437.97" y="1115.53" width="36.06" height="41.47" fill="#cbdfec"/>
<rect x="1474.03" y="1115.53" width="36.06" height="41.47" fill="#f3ded2"/>
<rect x="1510.09" y="1115.53" width="36.06" height="41.47" fill="#acd1e6"/>
<rect x="1546.15" y="1115.53" width="36.06" height="41.47" fill="#66a7d1"/>
<rect x="1582.21" y="1115.53" width="36.06" height="41.47" fill="#f9c7af"/>
<rect x="1618.26" y="1115.53" width="36.06" height="41.47" fill="#e27961"/>
<rect x="1654.32" y="1115.53" width="36.06" height="41.47" fill="#fad0bb"/>
<rect x="1690.38" y="1115.53" width="36.06" height="41.47" fill="#ebe1da"/>
<rect x="1726.44" y="1115.53" width="36.06" height="41.47" fill="#3784be"/>
</g>
<rect x="1146.00" y="181.64" width="2.00" height="1.60" fill="#333"/>
<text x="1770.5" y="200.0" font-size="34" fill="#000">[PC(36:2)+OAc]a</text>
<rect x="1146.00" y="223.11" width="2.00" height="1.60" fill="#333"/>
<text x="1770.5" y="241.13" font-size="34" fill="#000">[Cer(40:2)+Na]</text>
<rect x="1146.00" y="264.58" width="2.00" height="1.60" fill="#333"/>
<text x="1770.5" y="282.26" font-size="34" fill="#000">[PC(36:4)+Oac]</text>
<rect x="1146.00" y="306.05" width="2.00" height="1.60" fill="#333"/>
<text x="1770.5" y="323.39" font-size="34" fill="#000">[TG(50:1)+Na]</text>
<rect x="1146.00" y="347.52" width="2.00" height="1.60" fill="#333"/>
<text x="1770.5" y="364.52" font-size="34" fill="#000">[TG(51:1)+Na]</text>
<rect x="1146.00" y="388.99" width="2.00" height="1.60" fill="#333"/>
<text x="1770.5" y="405.65" font-size="34" fill="#000">[P-C(32:0)+H]</text>
<rect x="1146.00" y="430.46" width="2.00" height="1.60" fill="#333"/>
<text x="1770.5" y="446.78000000000003" font-size="34" fill="#000">[P-C(34:0)+H]</text>
<rect x="1146.00" y="471.93" width="2.00" height="1.60" fill="#333"/>
<text x="1770.5" y="487.91" font-size="34" fill="#000">[DG(38:4)+NH4]</text>
<rect x="1146.00" y="513.40" width="2.00" height="1.60" fill="#333"/>
<text x="1770.5" y="529.04" font-size="34" fill="#000">[LysoPC(22:6)+OAc]</text>
<rect x="1146.00" y="554.87" width="2.00" height="1.60" fill="#333"/>
<text x="1770.5" y="570.1700000000001" font-size="34" fill="#000">[TG(52:5)+NH4]</text>
<rect x="1146.00" y="596.34" width="2.00" height="1.60" fill="#333"/>
<text x="1770.5" y="611.3" font-size="34" fill="#000">[Cer(37:1)+OAc]</text>
<rect x="1146.00" y="637.81" width="2.00" height="1.60" fill="#333"/>
<text x="1770.5" y="652.4300000000001" font-size="34" fill="#000">[Cer(38:1)+OAc]</text>
<rect x="1146.00" y="679.29" width="2.00" height="1.60" fill="#333"/>
<text x="1770.5" y="693.5600000000001" font-size="34" fill="#000">[SM(40:2)+H]</text>
<rect x="1146.00" y="720.76" width="2.00" height="1.60" fill="#333"/>
<text x="1770.5" y="734.69" font-size="34" fill="#000">[FFA(18:1)+-H]</text>
<rect x="1146.00" y="762.23" width="2.00" height="1.60" fill="#333"/>
<text x="1770.5" y="775.82" font-size="34" fill="#000">[TG(54:4)+NH4]</text>
<rect x="1146.00" y="803.70" width="2.00" height="1.60" fill="#333"/>
<text x="1770.5" y="816.95" font-size="34" fill="#000">[PE(40:7)+-H]</text>
<rect x="1146.00" y="845.17" width="2.00" height="1.60" fill="#333"/>
<text x="1770.5" y="858.08" font-size="34" fill="#000">[TG(58:3)+Na]</text>
<rect x="1146.00" y="886.64" width="2.00" height="1.60" fill="#333"/>
<text x="1770.5" y="899.21" font-size="34" fill="#000">[PC(36:3)+OAc]a</text>
<rect x="1146.00" y="928.11" width="2.00" height="1.60" fill="#333"/>
<text x="1770.5" y="940.34" font-size="34" fill="#000">[PI(38:5)+-H]</text>
<rect x="1146.00" y="969.58" width="2.00" height="1.60" fill="#333"/>
<text x="1770.5" y="981.47" font-size="34" fill="#000">[PC(36:3)+H]a</text>
<rect x="1146.00" y="1011.05" width="2.00" height="1.60" fill="#333"/>
<text x="1770.5" y="1022.6" font-size="34" fill="#000">[TG(56:2)+NH4]</text>
<rect x="1146.00" y="1052.52" width="2.00" height="1.60" fill="#333"/>
<text x="1770.5" y="1063.73" font-size="34" fill="#000">[TG(58:3)+NH4]</text>
<rect x="1146.00" y="1093.99" width="2.00" height="1.60" fill="#333"/>
<text x="1770.5" y="1104.8600000000001" font-size="34" fill="#000">[PC(36:1)+H]</text>
<rect x="1146.00" y="1135.46" width="2.00" height="1.60" fill="#333"/>
<text x="1770.5" y="1145.99" font-size="34" fill="#000">[PC(36:1)+Na]</text>
<defs><linearGradient id="hmleg" x1="0" y1="0" x2="0" y2="1">
<stop offset="0" stop-color="#c0303c"/><stop offset="0.12" stop-color="#d45a50"/><stop offset="0.25" stop-color="#ea8a70"/>
<stop offset="0.38" stop-color="#f6b69c"/><stop offset="0.49" stop-color="#fad8cc"/><stop offset="0.55" stop-color="#e0dad8"/>
<stop offset="0.66" stop-color="#bcd4e2"/><stop offset="0.78" stop-color="#90c4e4"/><stop offset="0.9" stop-color="#5a9ccc"/><stop offset="1" stop-color="#3a80bc"/>
</linearGradient></defs>
<rect x="2099.00" y="301.70" width="22.80" height="184.00" fill="url(#hmleg)"/>
<text x="2133.5" y="330" font-size="30" fill="#000">3</text>
<text x="2133.5" y="406.8" font-size="30" fill="#000">0</text>
<text x="2127.5" y="484" font-size="30" fill="#000">-3</text>

<text transform="translate(16.5 1328.7) scale(0.915 1)" font-size="71.3" font-weight="bold" fill="#1c1c1c">C</text>
<defs>
<filter id="nzA" x="0" y="0" width="100%" height="100%"><feTurbulence type="fractalNoise" baseFrequency="0.38" numOctaves="2" seed="3"/><feColorMatrix type="matrix" values="0 0 0 0 0  0 0 0 0 0  0 0 0 0 0  1.6 0 0 0 -0.55"/><feComposite in2="SourceGraphic" operator="in"/></filter>
<filter id="nzW" x="0" y="0" width="100%" height="100%"><feTurbulence type="fractalNoise" baseFrequency="0.36" numOctaves="2" seed="11"/><feColorMatrix type="matrix" values="0 0 0 0 1  0 0 0 0 1  0 0 0 0 1  1.4 0 0 0 -0.6"/><feComposite in2="SourceGraphic" operator="in"/></filter>
<filter id="nzS" x="0" y="0" width="100%" height="100%"><feTurbulence type="fractalNoise" baseFrequency="0.06 0.004" numOctaves="2" seed="5"/><feColorMatrix type="matrix" values="0 0 0 0 0  0 0 0 0 0  0 0 0 0 0  1.5 0 0 0 -0.6"/><feComposite in2="SourceGraphic" operator="in"/></filter>
<filter id="nzL" x="0" y="0" width="100%" height="100%"><feTurbulence type="fractalNoise" baseFrequency="0.05 0.01" numOctaves="2" seed="8"/><feColorMatrix type="matrix" values="0 0 0 0 0  0 0 0 0 0  0 0 0 0 0  0.9 0 0 0 -0.38"/><feComposite in2="SourceGraphic" operator="in"/></filter>
<filter id="bb1" x="-20%" y="-150%" width="140%" height="400%"><feGaussianBlur stdDeviation="2.2 1.3"/></filter>
<filter id="bb2" x="-20%" y="-150%" width="140%" height="400%"><feGaussianBlur stdDeviation="2.6 1.8"/></filter>
<filter id="bb3" x="-20%" y="-150%" width="140%" height="400%"><feGaussianBlur stdDeviation="3 2.4"/></filter>
</defs>
<rect x="442.50" y="1387.00" width="366.90" height="65.60" fill="#9c9c9c"/>
<rect x="442.50" y="1387.00" width="366.90" height="65.60" fill="#000" filter="url(#nzS)" opacity="0.55"/>
<rect x="442.50" y="1387.00" width="366.90" height="65.60" fill="#000" filter="url(#nzA)" opacity="0.55"/>
<rect x="442.50" y="1387.00" width="366.90" height="65.60" fill="#fff" filter="url(#nzW)" opacity="0.35"/>
<rect x="449.80" y="1414.00" width="24.00" height="4.60" fill="#151515" filter="url(#bb1)" opacity="0.75"/>
<rect x="450.80" y="1422.00" width="22.00" height="4.50" fill="#303030" filter="url(#bb1)" opacity="0.41"/>
<rect x="486.00" y="1414.00" width="24.00" height="4.60" fill="#151515" filter="url(#bb1)" opacity="0.6"/>
<rect x="487.00" y="1422.00" width="22.00" height="4.50" fill="#303030" filter="url(#bb1)" opacity="0.33"/>
<rect x="522.30" y="1414.00" width="24.00" height="4.60" fill="#151515" filter="url(#bb1)" opacity="0.6"/>
<rect x="523.30" y="1422.00" width="22.00" height="4.50" fill="#303030" filter="url(#bb1)" opacity="0.33"/>
<rect x="557.50" y="1414.00" width="24.00" height="4.60" fill="#151515" filter="url(#bb1)" opacity="0.6"/>
<rect x="558.50" y="1422.00" width="22.00" height="4.50" fill="#303030" filter="url(#bb1)" opacity="0.33"/>
<rect x="593.80" y="1414.00" width="24.00" height="4.60" fill="#151515" filter="url(#bb1)" opacity="0.6"/>
<rect x="594.80" y="1422.00" width="22.00" height="4.50" fill="#303030" filter="url(#bb1)" opacity="0.33"/>
<rect x="627.80" y="1414.00" width="24.00" height="4.60" fill="#151515" filter="url(#bb1)" opacity="0.85"/>
<rect x="628.80" y="1422.00" width="22.00" height="4.50" fill="#303030" filter="url(#bb1)" opacity="0.47"/>
<rect x="664.00" y="1414.00" width="24.00" height="4.60" fill="#151515" filter="url(#bb1)" opacity="0.8"/>
<rect x="665.00" y="1422.00" width="22.00" height="4.50" fill="#303030" filter="url(#bb1)" opacity="0.44"/>
<rect x="701.50" y="1414.00" width="24.00" height="4.60" fill="#151515" filter="url(#bb1)" opacity="0.9"/>
<rect x="702.50" y="1422.00" width="22.00" height="4.50" fill="#303030" filter="url(#bb1)" opacity="0.50"/>
<rect x="737.80" y="1414.00" width="24.00" height="4.60" fill="#151515" filter="url(#bb1)" opacity="0.9"/>
<rect x="738.80" y="1422.00" width="22.00" height="4.50" fill="#303030" filter="url(#bb1)" opacity="0.50"/>
<rect x="776.30" y="1414.00" width="24.00" height="4.60" fill="#151515" filter="url(#bb1)" opacity="0.65"/>
<rect x="777.30" y="1422.00" width="22.00" height="4.50" fill="#303030" filter="url(#bb1)" opacity="0.36"/>
<circle cx="452" cy="1424" r="2" fill="#111" opacity="0.85"/>
<circle cx="470" cy="1442" r="1.5" fill="#111" opacity="0.85"/>
<circle cx="569" cy="1446" r="1.8" fill="#111" opacity="0.85"/>
<circle cx="693" cy="1390" r="2.2" fill="#111" opacity="0.85"/>
<circle cx="684" cy="1416" r="2.6" fill="#111" opacity="0.85"/>
<circle cx="706" cy="1420" r="3" fill="#111" opacity="0.85"/>
<circle cx="741" cy="1426" r="1.6" fill="#111" opacity="0.85"/>
<circle cx="796" cy="1437" r="1.6" fill="#111" opacity="0.85"/>
<circle cx="667" cy="1447" r="1.4" fill="#111" opacity="0.85"/>
<circle cx="733" cy="1409" r="1.8" fill="#111" opacity="0.85"/>
<rect x="442.50" y="1387.00" width="366.90" height="65.60" fill="none" stroke="#222" stroke-width="1.6"/>
<rect x="442.50" y="1459.00" width="366.90" height="51.00" fill="#bdbdbd"/>
<rect x="442.50" y="1459.00" width="366.90" height="51.00" fill="#000" filter="url(#nzL)" opacity="0.5"/>
<rect x="448.80" y="1468.60" width="26.00" height="5.60" fill="#000" filter="url(#bb1)" opacity="0.8"/>
<rect x="449.30" y="1478.40" width="25.00" height="3.00" fill="#222" filter="url(#bb1)" opacity="0.45"/>
<rect x="449.30" y="1494.50" width="25.00" height="5.00" fill="#1a1a1a" filter="url(#bb2)" opacity="0.35"/>
<rect x="448.80" y="1484.00" width="26.00" height="8.00" fill="#555" filter="url(#bb3)" opacity="0.3"/>
<rect x="483.50" y="1468.60" width="29.00" height="5.60" fill="#000" filter="url(#bb1)" opacity="1"/>
<rect x="485.50" y="1469.30" width="25.00" height="4.20" fill="#000" filter="url(#bb1)"/>
<rect x="485.50" y="1478.40" width="25.00" height="3.00" fill="#222" filter="url(#bb1)" opacity="0.6"/>
<rect x="485.50" y="1494.50" width="25.00" height="5.00" fill="#1a1a1a" filter="url(#bb2)" opacity="0.55"/>
<rect x="485.00" y="1484.00" width="26.00" height="8.00" fill="#555" filter="url(#bb3)" opacity="0.3"/>
<rect x="519.80" y="1468.60" width="29.00" height="5.60" fill="#000" filter="url(#bb1)" opacity="1"/>
<rect x="521.80" y="1469.30" width="25.00" height="4.20" fill="#000" filter="url(#bb1)"/>
<rect x="521.80" y="1478.40" width="25.00" height="3.00" fill="#222" filter="url(#bb1)" opacity="0.55"/>
<rect x="521.80" y="1494.50" width="25.00" height="5.00" fill="#1a1a1a" filter="url(#bb2)" opacity="0.5"/>
<rect x="521.30" y="1484.00" width="26.00" height="8.00" fill="#555" filter="url(#bb3)" opacity="0.3"/>
<rect x="556.50" y="1468.60" width="26.00" height="5.60" fill="#000" filter="url(#bb1)" opacity="0.95"/>
<rect x="557.00" y="1478.40" width="25.00" height="3.00" fill="#222" filter="url(#bb1)" opacity="0.6"/>
<rect x="557.00" y="1494.50" width="25.00" height="5.00" fill="#1a1a1a" filter="url(#bb2)" opacity="0.55"/>
<rect x="556.50" y="1484.00" width="26.00" height="8.00" fill="#555" filter="url(#bb3)" opacity="0.3"/>
<rect x="592.80" y="1468.60" width="26.00" height="5.60" fill="#000" filter="url(#bb1)" opacity="0.95"/>
<rect x="593.30" y="1478.40" width="25.00" height="3.00" fill="#222" filter="url(#bb1)" opacity="0.6"/>
<rect x="593.30" y="1494.50" width="25.00" height="5.00" fill="#1a1a1a" filter="url(#bb2)" opacity="0.9"/>
<rect x="592.80" y="1484.00" width="26.00" height="8.00" fill="#555" filter="url(#bb3)" opacity="0.3"/>
<rect x="626.80" y="1468.60" width="26.00" height="5.60" fill="#000" filter="url(#bb1)" opacity="0.22"/>
<rect x="627.30" y="1478.40" width="25.00" height="3.00" fill="#222" filter="url(#bb1)" opacity="0.35"/>
<rect x="627.30" y="1494.50" width="25.00" height="5.00" fill="#1a1a1a" filter="url(#bb2)" opacity="0.08"/>
<rect x="663.00" y="1468.60" width="26.00" height="5.60" fill="#000" filter="url(#bb1)" opacity="0.18"/>
<rect x="663.50" y="1478.40" width="25.00" height="3.00" fill="#222" filter="url(#bb1)" opacity="0.35"/>
<rect x="663.50" y="1494.50" width="25.00" height="5.00" fill="#1a1a1a" filter="url(#bb2)" opacity="0.06"/>
<rect x="700.50" y="1468.60" width="26.00" height="5.60" fill="#000" filter="url(#bb1)" opacity="0.08"/>
<rect x="701.00" y="1478.40" width="25.00" height="3.00" fill="#222" filter="url(#bb1)" opacity="0.1"/>
<rect x="701.00" y="1494.50" width="25.00" height="5.00" fill="#1a1a1a" filter="url(#bb2)" opacity="0.04"/>
<rect x="736.80" y="1468.60" width="26.00" height="5.60" fill="#000" filter="url(#bb1)" opacity="0.2"/>
<rect x="737.30" y="1478.40" width="25.00" height="3.00" fill="#222" filter="url(#bb1)" opacity="0.55"/>
<rect x="737.30" y="1494.50" width="25.00" height="5.00" fill="#1a1a1a" filter="url(#bb2)" opacity="0.12"/>
<rect x="775.30" y="1468.60" width="26.00" height="5.60" fill="#000" filter="url(#bb1)" opacity="0.15"/>
<rect x="775.80" y="1478.40" width="25.00" height="3.00" fill="#222" filter="url(#bb1)" opacity="0.3"/>
<rect x="775.80" y="1494.50" width="25.00" height="5.00" fill="#1a1a1a" filter="url(#bb2)" opacity="0.06"/>
<ellipse cx="552" cy="1501" rx="5.5" ry="3.2" fill="#999" opacity="0.8" transform="rotate(-20 552 1501)"/>
<rect x="442.50" y="1459.00" width="366.90" height="51.00" fill="none" stroke="#222" stroke-width="1.6"/>
<rect x="442.50" y="1515.80" width="366.90" height="50.80" fill="#c6c6c6"/>
<rect x="442.50" y="1515.80" width="366.90" height="50.80" fill="#000" filter="url(#nzL)" opacity="0.3"/>
<rect x="447.30" y="1541.00" width="29.00" height="7.60" fill="#2a2a2a" filter="url(#bb2)" opacity="0.55"/>
<rect x="483.50" y="1541.00" width="29.00" height="7.60" fill="#2a2a2a" filter="url(#bb2)" opacity="0.55"/>
<rect x="519.80" y="1541.00" width="29.00" height="7.60" fill="#2a2a2a" filter="url(#bb2)" opacity="0.55"/>
<rect x="555.00" y="1541.00" width="29.00" height="7.60" fill="#2a2a2a" filter="url(#bb2)" opacity="0.5"/>
<rect x="591.30" y="1541.00" width="29.00" height="7.60" fill="#2a2a2a" filter="url(#bb2)" opacity="0.6"/>
<rect x="625.30" y="1541.00" width="29.00" height="7.60" fill="#2a2a2a" filter="url(#bb2)" opacity="0.85"/>
<rect x="661.50" y="1541.00" width="29.00" height="7.60" fill="#2a2a2a" filter="url(#bb2)" opacity="0.65"/>
<rect x="699.00" y="1541.00" width="29.00" height="7.60" fill="#2a2a2a" filter="url(#bb2)" opacity="0.75"/>
<rect x="735.30" y="1541.00" width="29.00" height="7.60" fill="#2a2a2a" filter="url(#bb2)" opacity="1"/>
<rect x="773.80" y="1541.00" width="29.00" height="7.60" fill="#2a2a2a" filter="url(#bb2)" opacity="0.6"/>
<rect x="741.00" y="1541.50" width="16.00" height="7.50" fill="#000" filter="url(#bb1)"/>
<path d="M460.5 1534.5 l1.4 -4.8" stroke="#111" stroke-width="2" fill="none"/>
<rect x="442.50" y="1515.80" width="366.90" height="50.80" fill="none" stroke="#222" stroke-width="1.6"/>
<text x="511" y="1370.9" font-size="35" fill="#1a1a1a">L<tspan font-size="18.3" dy="-12.3" dx="2">WT</tspan></text>
<text x="667.3" y="1370.9" font-size="35" fill="#1a1a1a">L<tspan font-size="18.8" dy="-12.3" dx="2" font-style="italic">ΔRbfox2</tspan></text>
<line x1="444.7" y1="1382.4" x2="619" y2="1382.4" stroke="#222" stroke-width="1.5"/>
<line x1="628.9" y1="1382.4" x2="803.5" y2="1382.4" stroke="#222" stroke-width="1.5"/>
<text x="266.5" y="1434" font-size="34.2" fill="#1a1a1a">Pla2G6</text>
<text x="260" y="1494.7" font-size="33.4" fill="#1a1a1a">RBFOX2</text>
<text x="290.5" y="1552.2" font-size="33" fill="#1a1a1a">Tubulin</text>
<text x="389.5" y="1414.1" font-size="17.5" fill="#1a1a1a">L</text>
<text x="386.3" y="1459" font-size="17.5" fill="#1a1a1a">S</text>
<text x="811.5" y="1411.3" font-size="29.5" fill="#1a1a1a">-100kD</text>
<text x="811.5" y="1450.2" font-size="29.3" fill="#1a1a1a">-75kD</text>
<path d="M402.7 1407.4 L414.6 1416.5 H430 M401.9 1445.1 L416.6 1430 H430" fill="none" stroke="#111" stroke-width="1.3"/>
<path d="M437.5 1416.5 l-9.5 -4.2 l2.2 4.2 l-2.2 4.2z" fill="#111"/>
<path d="M437.5 1430 l-9.5 -4.2 l2.2 4.2 l-2.2 4.2z" fill="#111"/>
<path d="M430 1475.6 H416.6 V1493.5 H430" fill="none" stroke="#111" stroke-width="1.3"/>
<path d="M437.5 1475.6 l-9.5 -4.2 l2.2 4.2 l-2.2 4.2z" fill="#111"/>
<path d="M437.5 1493.5 l-9.5 -4.2 l2.2 4.2 l-2.2 4.2z" fill="#111"/>
<line x1="416.6" y1="1543.5" x2="430" y2="1543.5" stroke="#111" stroke-width="1.3"/>
<path d="M437.5 1543.5 l-9.5 -4.2 l2.2 4.2 l-2.2 4.2z" fill="#111"/>
<defs>
<filter id="bumpO" x="-10%" y="-10%" width="120%" height="120%">
<feTurbulence type="fractalNoise" baseFrequency="0.13" numOctaves="2" seed="4" result="t"/>
<feDisplacementMap in="SourceGraphic" in2="t" scale="10" xChannelSelector="R" yChannelSelector="G" result="d"/>
<feTurbulence type="fractalNoise" baseFrequency="0.1" numOctaves="2" seed="21" result="t2"/>
<feColorMatrix in="t2" type="matrix" values="0 0 0 0 0.1  0 0 0 0 0.05  0 0 0 0 0.0  8 0 0 0 -4.7" result="spots"/>
<feComposite in="spots" in2="d" operator="in" result="sp"/>
<feTurbulence type="fractalNoise" baseFrequency="0.3" numOctaves="1" seed="2" result="t3"/>
<feColorMatrix in="t3" type="matrix" values="0 0 0 0 0.8  0 0 0 0 0.4  0 0 0 0 0  2.4 0 0 0 -1.1" result="tex"/>
<feComposite in="tex" in2="d" operator="in" result="tx"/>
<feMerge><feMergeNode in="d"/><feMergeNode in="tx"/><feMergeNode in="sp"/></feMerge>
</filter>
<filter id="bumpP" x="-10%" y="-10%" width="120%" height="120%">
<feTurbulence type="fractalNoise" baseFrequency="0.13" numOctaves="2" seed="7" result="t"/>
<feDisplacementMap in="SourceGraphic" in2="t" scale="10" xChannelSelector="R" yChannelSelector="G" result="d"/>
<feTurbulence type="fractalNoise" baseFrequency="0.09" numOctaves="2" seed="33" result="t2"/>
<feColorMatrix in="t2" type="matrix" values="0 0 0 0 0.3  0 0 0 0 0.1  0 0 0 0 0.34  5 0 0 0 -2.75" result="spots"/>
<feComposite in="spots" in2="d" operator="in" result="sp"/>
<feTurbulence type="fractalNoise" baseFrequency="0.3" numOctaves="1" seed="5" result="t3"/>
<feColorMatrix in="t3" type="matrix" values="0 0 0 0 0.55  0 0 0 0 0.2  0 0 0 0 0.6  2.4 0 0 0 -1.1" result="tex"/>
<feComposite in="tex" in2="d" operator="in" result="tx"/>
<feMerge><feMergeNode in="d"/><feMergeNode in="tx"/><feMergeNode in="sp"/></feMerge>
</filter>
</defs>
<g filter="url(#bumpP)"><path d="M323.8 1719.5 C324.7 1715.6 327.2 1713.9 330.6 1712.7 C334.0 1711.6 340.0 1713.6 344.2 1712.7 C348.5 1711.9 352.7 1710.2 356.1 1707.6 C359.5 1705.1 361.8 1700.5 364.6 1697.4 C367.5 1694.3 369.7 1691.2 373.1 1688.9 C376.5 1686.6 381.6 1683.8 385.1 1683.8 C388.5 1683.8 391.7 1686.1 393.6 1688.9 C395.4 1691.8 396.1 1696.6 396.1 1700.8 C396.1 1705.1 394.5 1709.9 393.6 1714.4 C392.6 1719.0 392.1 1724.9 390.2 1728.0 C388.2 1731.2 384.8 1731.2 381.6 1733.1 C378.5 1735.1 374.3 1737.4 371.4 1739.9 C368.6 1742.5 368.0 1745.9 364.6 1748.5 C361.2 1751.0 355.0 1754.1 351.0 1755.3 C347.1 1756.4 344.2 1755.8 340.8 1755.3 C337.4 1754.7 333.2 1755.0 330.6 1751.9 C328.1 1748.7 326.6 1741.9 325.5 1736.5 C324.4 1731.2 323.0 1723.5 323.8 1719.5Z" fill="#a648b0"/><path d="M461.6 1711.0 C464.6 1707.1 472.7 1706.8 476.9 1704.2 C481.2 1701.7 482.6 1698.4 487.1 1695.7 C491.6 1693.0 499.3 1689.1 504.1 1688.1 C508.9 1687.1 512.6 1688.5 516.0 1689.8 C519.4 1691.0 523.7 1692.5 524.5 1695.7 C525.4 1699.0 521.6 1704.8 521.1 1709.3 C520.7 1713.9 522.5 1719.3 522.0 1722.9 C521.4 1726.6 520.1 1729.7 517.7 1731.4 C515.3 1733.1 511.2 1733.1 507.5 1733.1 C503.8 1733.1 498.7 1730.0 495.6 1731.4 C492.5 1732.9 491.4 1738.2 488.8 1741.6 C486.3 1745.0 483.4 1748.9 480.3 1751.9 C477.2 1754.8 473.2 1758.9 470.1 1759.5 C467.0 1760.1 463.6 1757.9 461.6 1755.3 C459.6 1752.6 458.6 1747.9 458.2 1743.3 C457.8 1738.8 458.5 1733.4 459.0 1728.0 C459.6 1722.7 458.6 1715.0 461.6 1711.0Z" fill="#a648b0"/><path d="M351.7 1857.1 C353.5 1854.4 355.8 1853.0 359.9 1851.7 C364.0 1850.3 372.1 1848.9 376.2 1848.9 C380.3 1848.9 382.8 1848.9 384.4 1851.7 C386.0 1854.4 385.4 1860.7 385.7 1865.3 C386.1 1869.8 387.1 1875.3 386.4 1878.9 C385.7 1882.5 383.4 1884.3 381.7 1887.0 C380.0 1889.8 378.5 1892.0 376.2 1895.2 C373.9 1898.4 370.5 1902.0 368.1 1906.1 C365.6 1910.2 363.3 1915.6 361.2 1919.7 C359.2 1923.8 356.9 1927.2 355.8 1930.6 C354.7 1934.0 355.1 1937.9 354.4 1940.1 C353.8 1942.4 353.5 1943.8 351.7 1944.2 C349.9 1944.7 345.8 1942.2 343.6 1942.8 C341.3 1943.5 340.1 1947.6 338.1 1948.3 C336.1 1949.0 332.8 1948.7 331.3 1946.9 C329.8 1945.1 329.9 1941.5 329.3 1937.4 C328.6 1933.3 326.7 1927.6 327.2 1922.4 C327.8 1917.2 331.1 1910.4 332.7 1906.1 C334.3 1901.8 334.7 1900.7 336.7 1896.6 C338.8 1892.5 342.9 1886.4 344.9 1881.6 C347.0 1876.8 347.9 1872.1 349.0 1868.0 C350.1 1863.9 349.9 1859.8 351.7 1857.1Z" fill="#a648b0"/><path d="M461.3 1858.5 C463.4 1855.1 469.3 1857.6 472.8 1858.5 C476.4 1859.4 479.7 1861.4 482.4 1863.9 C485.1 1866.4 486.9 1869.8 489.2 1873.4 C491.4 1877.1 493.5 1881.1 496.0 1885.7 C498.5 1890.2 501.9 1895.9 504.1 1900.7 C506.4 1905.4 508.2 1909.7 509.6 1914.3 C511.0 1918.8 512.3 1924.0 512.3 1927.9 C512.3 1931.7 511.0 1934.5 509.6 1937.4 C508.2 1940.4 505.5 1942.6 504.1 1945.6 C502.8 1948.5 503.0 1953.3 501.4 1955.1 C499.8 1956.9 496.4 1957.6 494.6 1956.5 C492.8 1955.3 492.6 1948.7 490.5 1948.3 C488.5 1947.8 484.6 1954.2 482.4 1953.7 C480.1 1953.3 477.6 1949.0 476.9 1945.6 C476.2 1942.2 478.5 1937.6 478.3 1933.3 C478.1 1929.0 476.7 1923.8 475.6 1919.7 C474.4 1915.6 473.1 1912.2 471.5 1908.8 C469.9 1905.4 468.0 1902.0 466.0 1899.3 C464.1 1896.6 460.9 1895.9 459.9 1892.5 C458.9 1889.1 459.7 1884.6 459.9 1878.9 C460.1 1873.2 459.1 1861.9 461.3 1858.5Z" fill="#a648b0"/></g>
<g filter="url(#bumpO)"><path d="M388.5 1709.3 C390.3 1705.1 395.0 1702.0 398.7 1699.1 C402.3 1696.3 407.2 1694.3 410.6 1692.3 C414.0 1690.3 415.1 1687.2 419.1 1687.2 C423.0 1687.2 429.3 1692.0 434.4 1692.3 C439.5 1692.6 445.7 1688.1 449.7 1688.9 C453.7 1689.8 456.2 1694.3 458.2 1697.4 C460.2 1700.5 460.7 1703.9 461.6 1707.6 C462.4 1711.3 463.6 1715.3 463.3 1719.5 C463.0 1723.8 461.6 1729.7 459.9 1733.1 C458.2 1736.5 455.6 1738.0 453.1 1739.9 C450.5 1741.9 446.3 1742.9 444.6 1745.0 C442.9 1747.2 445.4 1751.4 442.9 1752.7 C440.3 1754.0 433.2 1753.4 429.3 1752.7 C425.3 1752.0 423.0 1749.2 419.1 1748.5 C415.1 1747.7 409.4 1748.2 405.5 1748.5 C401.5 1748.7 398.1 1751.6 395.3 1750.2 C392.4 1748.7 389.7 1744.2 388.5 1739.9 C387.2 1735.7 387.6 1729.7 387.6 1724.6 C387.6 1719.5 386.6 1713.6 388.5 1709.3Z" fill="#f08c18"/><path d="M380.3 1836.7 C380.5 1834.4 381.4 1833.7 384.4 1832.6 C387.3 1831.5 394.1 1829.7 398.0 1829.9 C401.8 1830.1 405.0 1832.4 407.5 1834.0 C410.0 1835.6 410.9 1839.4 413.0 1839.4 C415.0 1839.4 415.9 1835.8 419.8 1834.0 C423.6 1832.2 431.1 1829.0 436.1 1828.5 C441.1 1828.1 445.4 1829.9 449.7 1831.2 C454.0 1832.6 459.8 1834.2 462.0 1836.7 C464.1 1839.2 462.8 1842.6 462.6 1846.2 C462.5 1849.8 461.3 1853.9 461.3 1858.5 C461.3 1863.0 462.8 1868.9 462.6 1873.4 C462.5 1878.0 461.8 1882.5 460.6 1885.7 C459.4 1888.9 457.9 1890.3 455.2 1892.5 C452.4 1894.6 448.3 1897.9 444.3 1898.6 C440.2 1899.3 435.4 1897.0 430.7 1896.6 C425.9 1896.1 420.2 1895.4 415.7 1895.9 C411.1 1896.3 407.3 1899.4 403.4 1899.3 C399.6 1899.2 395.5 1896.8 392.5 1895.2 C389.6 1893.6 387.2 1892.9 385.7 1889.8 C384.3 1886.6 383.9 1881.4 383.7 1876.2 C383.5 1870.9 384.5 1863.5 384.4 1858.5 C384.3 1853.5 383.7 1849.8 383.0 1846.2 C382.3 1842.6 380.1 1839.0 380.3 1836.7Z" fill="#f08c18"/></g>
<text x="449.3" y="1828.8" font-size="13.2" font-weight="bold" fill="#f0a21e">CAT</text>
<text x="358" y="1930.6" font-size="13.6" font-weight="bold" fill="#9a3fa6">ANK</text>
<path d="M402 1796.6 h19.6" stroke="#111" stroke-width="2" fill="none"/>
<path d="M406.3 1788.4 l12.8 6 l-9.6 1.4z" fill="#111"/>
<path d="M410.5 1795 c-2.5 5 -1 9 5 11.5" fill="none" stroke="#111" stroke-width="2.6"/>
<path d="M408.3 1805.2 l7.6 -0.8 l-1.2 3.8z" fill="#111"/>
<text x="424.6" y="1800.3" font-size="10.6" fill="#111">90°</text>
<path d="M348 1821 H340.6 V1829 M370 1821 H386 M406 1821 H412.7 V1829 M340.6 1846 V1862 M340.6 1874 V1880 H352 M368 1880 H384" fill="none" stroke="#222" stroke-width="1.4"/>
<path d="M413.5 1820 L572 1687" fill="none" stroke="#222" stroke-width="1.4" stroke-dasharray="15 16"/>
<path d="M462 1874 L586 1856.5" fill="none" stroke="#222" stroke-width="1.4" stroke-dasharray="15 21"/>
<path d="M586.6 1697.3 V1857" fill="none" stroke="#222" stroke-width="1.4" stroke-dasharray="15 15.2"/>
<path d="M595 1673.7 H586.6 V1680 M610.8 1673.7 H788.5" fill="none" stroke="#222" stroke-width="1.4" stroke-dasharray="15.9 16.1"/>
<path d="M607 1857 H660" fill="none" stroke="#222" stroke-width="1.4" stroke-dasharray="18 14"/>
<g clip-path="url(#memclip)">
<defs><clipPath id="memclip"><rect x="305" y="1900" width="220.5" height="120"/></clipPath></defs>
<path d="M305.2 1962.0 L311.1 1988.1" stroke="#222" stroke-width="1" fill="none"/><path d="M308.4 1961.3 L314.2 1987.4" stroke="#222" stroke-width="1" fill="none"/><path d="M305.8 1975.6 L313.6 1973.8" stroke="#fff" stroke-width="1.5"/><path d="M318.5 1959.2 L323.5 1985.5" stroke="#222" stroke-width="1" fill="none"/><path d="M321.7 1958.6 L326.7 1984.9" stroke="#222" stroke-width="1" fill="none"/><path d="M318.7 1972.8 L326.5 1971.3" stroke="#fff" stroke-width="1.5"/><path d="M331.8 1956.8 L335.9 1983.3" stroke="#222" stroke-width="1" fill="none"/><path d="M335.0 1956.4 L339.1 1982.8" stroke="#222" stroke-width="1" fill="none"/><path d="M331.5 1970.5 L339.4 1969.2" stroke="#fff" stroke-width="1.5"/><path d="M345.1 1955.0 L348.3 1981.6" stroke="#222" stroke-width="1" fill="none"/><path d="M348.3 1954.6 L351.5 1981.2" stroke="#222" stroke-width="1" fill="none"/><path d="M344.3 1968.5 L352.3 1967.6" stroke="#fff" stroke-width="1.5"/><path d="M358.4 1953.5 L360.7 1980.2" stroke="#222" stroke-width="1" fill="none"/><path d="M361.6 1953.2 L363.9 1979.9" stroke="#222" stroke-width="1" fill="none"/><path d="M357.2 1967.1 L365.1 1966.4" stroke="#fff" stroke-width="1.5"/><path d="M371.7 1952.5 L373.1 1979.3" stroke="#222" stroke-width="1" fill="none"/><path d="M374.9 1952.4 L376.3 1979.1" stroke="#222" stroke-width="1" fill="none"/><path d="M370.0 1966.0 L378.0 1965.6" stroke="#fff" stroke-width="1.5"/><path d="M385.0 1952.0 L385.5 1978.8" stroke="#222" stroke-width="1" fill="none"/><path d="M388.2 1951.9 L388.7 1978.7" stroke="#222" stroke-width="1" fill="none"/><path d="M382.9 1965.4 L390.9 1965.3" stroke="#fff" stroke-width="1.5"/><path d="M398.3 1951.9 L397.9 1978.7" stroke="#222" stroke-width="1" fill="none"/><path d="M401.5 1952.0 L401.1 1978.8" stroke="#222" stroke-width="1" fill="none"/><path d="M395.7 1965.3 L403.7 1965.4" stroke="#fff" stroke-width="1.5"/><path d="M411.6 1952.3 L410.4 1979.0" stroke="#222" stroke-width="1" fill="none"/><path d="M414.8 1952.4 L413.6 1979.2" stroke="#222" stroke-width="1" fill="none"/><path d="M408.6 1965.5 L416.6 1965.9" stroke="#fff" stroke-width="1.5"/><path d="M424.9 1953.0 L422.8 1979.8" stroke="#222" stroke-width="1" fill="none"/><path d="M428.1 1953.3 L426.0 1980.0" stroke="#222" stroke-width="1" fill="none"/><path d="M421.5 1966.2 L429.5 1966.8" stroke="#fff" stroke-width="1.5"/><path d="M438.2 1954.2 L435.3 1980.9" stroke="#222" stroke-width="1" fill="none"/><path d="M441.4 1954.6 L438.5 1981.2" stroke="#222" stroke-width="1" fill="none"/><path d="M434.4 1967.3 L442.3 1968.2" stroke="#fff" stroke-width="1.5"/><path d="M451.5 1955.8 L447.8 1982.4" stroke="#222" stroke-width="1" fill="none"/><path d="M454.7 1956.3 L451.0 1982.8" stroke="#222" stroke-width="1" fill="none"/><path d="M447.3 1968.8 L455.2 1969.9" stroke="#fff" stroke-width="1.5"/><path d="M464.8 1957.9 L460.3 1984.3" stroke="#222" stroke-width="1" fill="none"/><path d="M468.0 1958.4 L463.4 1984.8" stroke="#222" stroke-width="1" fill="none"/><path d="M460.2 1970.7 L468.1 1972.0" stroke="#fff" stroke-width="1.5"/><path d="M478.1 1960.3 L472.8 1986.6" stroke="#222" stroke-width="1" fill="none"/><path d="M481.3 1961.0 L475.9 1987.2" stroke="#222" stroke-width="1" fill="none"/><path d="M473.1 1973.0 L480.9 1974.6" stroke="#fff" stroke-width="1.5"/><path d="M491.4 1963.2 L485.3 1989.3" stroke="#222" stroke-width="1" fill="none"/><path d="M494.6 1963.9 L488.4 1990.0" stroke="#222" stroke-width="1" fill="none"/><path d="M486.0 1975.7 L493.8 1977.5" stroke="#fff" stroke-width="1.5"/><path d="M504.8 1966.5 L497.8 1992.4" stroke="#222" stroke-width="1" fill="none"/><path d="M507.8 1967.3 L500.9 1993.2" stroke="#222" stroke-width="1" fill="none"/><path d="M499.0 1978.8 L506.7 1980.9" stroke="#fff" stroke-width="1.5"/><path d="M518.1 1970.2 L510.4 1995.9" stroke="#222" stroke-width="1" fill="none"/><path d="M521.1 1971.1 L513.5 1996.8" stroke="#222" stroke-width="1" fill="none"/><path d="M511.9 1982.4 L519.6 1984.7" stroke="#fff" stroke-width="1.5"/><circle cx="306.8" cy="1961.6" r="5.7" fill="#cbcaca" stroke="#222" stroke-width="1.1"/>
<circle cx="312.6" cy="1987.8" r="5.7" fill="#cbcaca" stroke="#222" stroke-width="1.1"/>
<circle cx="320.1" cy="1958.9" r="5.7" fill="#cbcaca" stroke="#222" stroke-width="1.1"/>
<circle cx="325.1" cy="1985.2" r="5.7" fill="#cbcaca" stroke="#222" stroke-width="1.1"/>
<circle cx="333.4" cy="1956.6" r="5.7" fill="#cbcaca" stroke="#222" stroke-width="1.1"/>
<circle cx="337.5" cy="1983.1" r="5.7" fill="#cbcaca" stroke="#222" stroke-width="1.1"/>
<circle cx="346.7" cy="1954.8" r="5.7" fill="#cbcaca" stroke="#222" stroke-width="1.1"/>
<circle cx="349.9" cy="1981.4" r="5.7" fill="#cbcaca" stroke="#222" stroke-width="1.1"/>
<circle cx="360.0" cy="1953.4" r="5.7" fill="#cbcaca" stroke="#222" stroke-width="1.1"/>
<circle cx="362.3" cy="1980.1" r="5.7" fill="#cbcaca" stroke="#222" stroke-width="1.1"/>
<circle cx="373.3" cy="1952.4" r="5.7" fill="#cbcaca" stroke="#222" stroke-width="1.1"/>
<circle cx="374.7" cy="1979.2" r="5.7" fill="#cbcaca" stroke="#222" stroke-width="1.1"/>
<circle cx="386.6" cy="1952.0" r="5.7" fill="#cbcaca" stroke="#222" stroke-width="1.1"/>
<circle cx="387.1" cy="1978.8" r="5.7" fill="#cbcaca" stroke="#222" stroke-width="1.1"/>
<circle cx="399.9" cy="1951.9" r="5.7" fill="#cbcaca" stroke="#222" stroke-width="1.1"/>
<circle cx="399.5" cy="1978.7" r="5.7" fill="#cbcaca" stroke="#222" stroke-width="1.1"/>
<circle cx="413.2" cy="1952.3" r="5.7" fill="#cbcaca" stroke="#222" stroke-width="1.1"/>
<circle cx="412.0" cy="1979.1" r="5.7" fill="#cbcaca" stroke="#222" stroke-width="1.1"/>
<circle cx="426.5" cy="1953.2" r="5.7" fill="#cbcaca" stroke="#222" stroke-width="1.1"/>
<circle cx="424.4" cy="1979.9" r="5.7" fill="#cbcaca" stroke="#222" stroke-width="1.1"/>
<circle cx="439.8" cy="1954.4" r="5.7" fill="#cbcaca" stroke="#222" stroke-width="1.1"/>
<circle cx="436.9" cy="1981.0" r="5.7" fill="#cbcaca" stroke="#222" stroke-width="1.1"/>
<circle cx="453.1" cy="1956.1" r="5.7" fill="#cbcaca" stroke="#222" stroke-width="1.1"/>
<circle cx="449.4" cy="1982.6" r="5.7" fill="#cbcaca" stroke="#222" stroke-width="1.1"/>
<circle cx="466.4" cy="1958.1" r="5.7" fill="#cbcaca" stroke="#222" stroke-width="1.1"/>
<circle cx="461.8" cy="1984.5" r="5.7" fill="#cbcaca" stroke="#222" stroke-width="1.1"/>
<circle cx="479.7" cy="1960.6" r="5.7" fill="#cbcaca" stroke="#222" stroke-width="1.1"/>
<circle cx="474.3" cy="1986.9" r="5.7" fill="#cbcaca" stroke="#222" stroke-width="1.1"/>
<circle cx="493.0" cy="1963.6" r="5.7" fill="#cbcaca" stroke="#222" stroke-width="1.1"/>
<circle cx="486.9" cy="1989.6" r="5.7" fill="#cbcaca" stroke="#222" stroke-width="1.1"/>
<circle cx="506.3" cy="1966.9" r="5.7" fill="#cbcaca" stroke="#222" stroke-width="1.1"/>
<circle cx="499.4" cy="1992.8" r="5.7" fill="#cbcaca" stroke="#222" stroke-width="1.1"/>
<circle cx="519.6" cy="1970.7" r="5.7" fill="#cbcaca" stroke="#222" stroke-width="1.1"/>
<circle cx="511.9" cy="1996.3" r="5.7" fill="#cbcaca" stroke="#222" stroke-width="1.1"/>
<circle cx="526.5" cy="2000.5" r="5.7" fill="#cbcaca" stroke="#222" stroke-width="1.1"/>
</g>
<defs><clipPath id="zclip"><rect x="640" y="1690" width="172" height="167"/></clipPath>
<filter id="bumpZ" x="-10%" y="-10%" width="120%" height="120%">
<feTurbulence type="fractalNoise" baseFrequency="0.09" numOctaves="2" seed="14" result="t"/>
<feDisplacementMap in="SourceGraphic" in2="t" scale="12" xChannelSelector="R" yChannelSelector="G" result="d"/>
<feTurbulence type="fractalNoise" baseFrequency="0.045" numOctaves="2" seed="41" result="t2"/>
<feColorMatrix in="t2" type="matrix" values="0 0 0 0 0.72  0 0 0 0 0.34  0 0 0 0 0.02  5 0 0 0 -2.6" result="spots"/>
<feGaussianBlur in="spots" stdDeviation="1.5" result="spb"/>
<feComposite in="spb" in2="d" operator="in" result="sp"/>
<feTurbulence type="fractalNoise" baseFrequency="0.05" numOctaves="2" seed="77" result="t4"/>
<feColorMatrix in="t4" type="matrix" values="0 0 0 0 0.98  0 0 0 0 0.64  0 0 0 0 0.22  3 0 0 0 -1.75" result="hl"/>
<feGaussianBlur in="hl" stdDeviation="1.5" result="hlb"/>
<feComposite in="hlb" in2="d" operator="in" result="hh"/>
<feMerge><feMergeNode in="d"/><feMergeNode in="hh"/><feMergeNode in="sp"/></feMerge>
</filter>
<filter id="blz" x="-30%" y="-30%" width="160%" height="160%"><feGaussianBlur stdDeviation="4"/></filter>
</defs>
<g clip-path="url(#zclip)">
<g filter="url(#bumpZ)"><path d="M661.6 1866.3 C634.3 1861.0 658.4 1842.5 658.4 1834.6 C658.4 1826.6 659.7 1823.2 661.6 1818.7 C663.4 1814.2 668.4 1811.6 669.5 1807.6 C670.6 1803.6 667.7 1799.4 667.9 1794.9 C668.2 1790.4 671.1 1784.6 671.1 1780.6 C671.1 1776.6 667.9 1775.3 667.9 1771.1 C667.9 1766.9 670.8 1760.0 671.1 1755.2 C671.4 1750.5 668.4 1746.8 669.5 1742.5 C670.6 1738.3 674.5 1733.3 677.4 1729.8 C680.3 1726.4 684.6 1724.7 687.0 1721.9 C689.3 1719.1 689.1 1715.3 691.7 1713.2 C694.4 1711.0 699.4 1709.2 702.8 1709.2 C706.3 1709.2 709.7 1712.0 712.4 1713.2 C715.0 1714.4 716.1 1715.0 718.7 1716.3 C721.3 1717.7 725.6 1719.2 728.2 1721.1 C730.9 1723.0 732.5 1725.9 734.6 1727.4 C736.7 1729.0 738.3 1729.3 740.9 1730.6 C743.6 1731.9 747.3 1733.8 750.4 1735.4 C753.6 1737.0 757.1 1739.0 760.0 1740.1 C762.9 1741.3 765.9 1743.2 767.9 1742.5 C769.9 1741.9 770.0 1738.3 771.9 1736.2 C773.7 1734.1 776.8 1732.2 779.0 1729.8 C781.3 1727.5 783.5 1724.5 785.4 1722.2 C787.2 1719.9 787.5 1717.2 790.1 1715.9 C792.8 1714.5 795.9 1714.7 801.2 1714.3 C806.5 1713.8 818.4 1687.8 821.9 1713.2 C825.3 1738.5 848.6 1840.8 821.9 1866.3 C795.1 1891.8 688.8 1871.6 661.6 1866.3Z" fill="#f08c18"/></g>
<defs><clipPath id="zoclip"><path d="M661.6 1866.3 C634.3 1861.0 658.4 1842.5 658.4 1834.6 C658.4 1826.6 659.7 1823.2 661.6 1818.7 C663.4 1814.2 668.4 1811.6 669.5 1807.6 C670.6 1803.6 667.7 1799.4 667.9 1794.9 C668.2 1790.4 671.1 1784.6 671.1 1780.6 C671.1 1776.6 667.9 1775.3 667.9 1771.1 C667.9 1766.9 670.8 1760.0 671.1 1755.2 C671.4 1750.5 668.4 1746.8 669.5 1742.5 C670.6 1738.3 674.5 1733.3 677.4 1729.8 C680.3 1726.4 684.6 1724.7 687.0 1721.9 C689.3 1719.1 689.1 1715.3 691.7 1713.2 C694.4 1711.0 699.4 1709.2 702.8 1709.2 C706.3 1709.2 709.7 1712.0 712.4 1713.2 C715.0 1714.4 716.1 1715.0 718.7 1716.3 C721.3 1717.7 725.6 1719.2 728.2 1721.1 C730.9 1723.0 732.5 1725.9 734.6 1727.4 C736.7 1729.0 738.3 1729.3 740.9 1730.6 C743.6 1731.9 747.3 1733.8 750.4 1735.4 C753.6 1737.0 757.1 1739.0 760.0 1740.1 C762.9 1741.3 765.9 1743.2 767.9 1742.5 C769.9 1741.9 770.0 1738.3 771.9 1736.2 C773.7 1734.1 776.8 1732.2 779.0 1729.8 C781.3 1727.5 783.5 1724.5 785.4 1722.2 C787.2 1719.9 787.5 1717.2 790.1 1715.9 C792.8 1714.5 795.9 1714.7 801.2 1714.3 C806.5 1713.8 818.4 1687.8 821.9 1713.2 C825.3 1738.5 848.6 1840.8 821.9 1866.3 C795.1 1891.8 688.8 1871.6 661.6 1866.3Z"/></clipPath></defs>
<g clip-path="url(#zoclip)">
<rect x="772" y="1722" width="50" height="140" fill="#8a4206" filter="url(#blz)" opacity="0.36"/>
<path d="M769.5 1755.2 C770.5 1753.6 774.0 1762.6 775.8 1767.9 C777.7 1773.2 779.0 1779.8 780.6 1787.0 C782.2 1794.1 783.8 1803.4 785.4 1810.8 C786.9 1818.2 790.1 1827.2 790.1 1831.4 C790.1 1835.6 787.2 1838.3 785.4 1836.2 C783.5 1834.0 780.9 1824.8 779.0 1818.7 C777.2 1812.6 775.8 1806.5 774.2 1799.7 C772.7 1792.8 770.3 1784.8 769.5 1777.4 C768.7 1770.0 768.4 1756.8 769.5 1755.2Z" fill="#3a1804" filter="url(#blz)" opacity="0.85"/>
<path d="M786.9 1748.9 C788.3 1747.3 793.8 1756.3 794.9 1761.6 C795.9 1766.9 794.6 1779.0 793.3 1780.6 C792.0 1782.2 788.0 1776.4 786.9 1771.1 C785.9 1765.8 785.6 1750.5 786.9 1748.9Z" fill="#4a2006" filter="url(#blz)" opacity="0.6"/>
<path d="M712.4 1771.1 C713.1 1767.7 717.9 1767.9 720.3 1769.5 C722.7 1771.1 725.3 1776.6 726.6 1780.6 C728.0 1784.6 729.0 1789.6 728.2 1793.3 C727.4 1797.0 724.0 1803.4 721.9 1802.8 C719.8 1802.3 717.1 1795.4 715.5 1790.1 C713.9 1784.8 711.6 1774.5 712.4 1771.1Z" fill="#8a4508" filter="url(#blz)" opacity="0.6"/>
<path d="M680.6 1742.5 C681.7 1740.4 690.7 1738.3 693.3 1739.3 C696.0 1740.4 697.5 1746.8 696.5 1748.9 C695.4 1751.0 689.6 1753.1 687.0 1752.0 C684.3 1751.0 679.6 1744.6 680.6 1742.5Z" fill="#7a3a06" filter="url(#blz)" opacity="0.55"/>
</g>
<path d="M704.4 1818.8 q-3 -14 12 -17" fill="none" stroke="#7d3487" stroke-width="6.6"/><path d="M711.4 1821.8 q10 3 17 -4" fill="none" stroke="#8a3a94" stroke-width="5"/><path d="M704.4 1818.8 q-3 -14 12 -17" fill="none" stroke="#b35fbd" stroke-width="4.6"/><path d="M721.8 1828.3 q-3 -14 12 -17" fill="none" stroke="#7d3487" stroke-width="6.6"/><path d="M728.8 1831.3 q10 3 17 -4" fill="none" stroke="#8a3a94" stroke-width="5"/><path d="M721.8 1828.3 q-3 -14 12 -17" fill="none" stroke="#b35fbd" stroke-width="4.6"/><path d="M740.9 1829.1 q-3 -14 12 -17" fill="none" stroke="#7d3487" stroke-width="6.6"/><path d="M747.9 1832.1 q10 3 17 -4" fill="none" stroke="#8a3a94" stroke-width="5"/><path d="M740.9 1829.1 q-3 -14 12 -17" fill="none" stroke="#b35fbd" stroke-width="4.6"/><path d="M688.5 1837.8 q-3 -14 12 -17" fill="none" stroke="#7d3487" stroke-width="6.6"/><path d="M695.5 1840.8 q10 3 17 -4" fill="none" stroke="#8a3a94" stroke-width="5"/><path d="M688.5 1837.8 q-3 -14 12 -17" fill="none" stroke="#b35fbd" stroke-width="4.6"/><path d="M706.7 1845.0 q-3 -14 12 -17" fill="none" stroke="#7d3487" stroke-width="6.6"/><path d="M713.7 1848.0 q10 3 17 -4" fill="none" stroke="#8a3a94" stroke-width="5"/><path d="M706.7 1845.0 q-3 -14 12 -17" fill="none" stroke="#b35fbd" stroke-width="4.6"/><path d="M679.0 1853.7 q-3 -14 12 -17" fill="none" stroke="#7d3487" stroke-width="6.6"/><path d="M686.0 1856.7 q10 3 17 -4" fill="none" stroke="#8a3a94" stroke-width="5"/><path d="M679.0 1853.7 q-3 -14 12 -17" fill="none" stroke="#b35fbd" stroke-width="4.6"/><path d="M724.2 1850.5 q-3 -14 12 -17" fill="none" stroke="#7d3487" stroke-width="6.6"/><path d="M731.2 1853.5 q10 3 17 -4" fill="none" stroke="#8a3a94" stroke-width="5"/><path d="M724.2 1850.5 q-3 -14 12 -17" fill="none" stroke="#b35fbd" stroke-width="4.6"/><path d="M694.8 1860.8 q-3 -14 12 -17" fill="none" stroke="#7d3487" stroke-width="6.6"/><path d="M701.8 1863.8 q10 3 17 -4" fill="none" stroke="#8a3a94" stroke-width="5"/><path d="M694.8 1860.8 q-3 -14 12 -17" fill="none" stroke="#b35fbd" stroke-width="4.6"/><path d="M663.1 1860.8 q-3 -14 12 -17" fill="none" stroke="#7d3487" stroke-width="6.6"/><path d="M670.1 1863.8 q10 3 17 -4" fill="none" stroke="#8a3a94" stroke-width="5"/><path d="M663.1 1860.8 q-3 -14 12 -17" fill="none" stroke="#b35fbd" stroke-width="4.6"/>
</g>
<path d="M651.3 1798.1 C653.0 1798.3 658.5 1801.0 661.6 1799.7 C664.6 1798.3 666.3 1792.5 669.5 1790.1 C672.7 1787.8 676.9 1785.6 680.6 1785.4 C684.3 1785.1 688.3 1788.3 691.7 1788.5 C695.2 1788.8 699.1 1785.9 701.2 1787.0 C703.4 1788.0 704.9 1792.2 704.4 1794.9 C703.9 1797.5 699.1 1801.5 698.1 1802.8" fill="none" stroke="#8e3d99" stroke-width="1.9"/>
<path d="M640.1 1818.7 C641.6 1817.6 646.4 1814.2 648.9 1812.4 C651.4 1810.5 652.8 1807.1 655.2 1807.6 C657.6 1808.1 660.5 1814.6 663.2 1815.5 C665.8 1816.5 668.7 1812.4 671.1 1813.1 C673.5 1813.9 677.4 1817.8 677.4 1820.3 C677.4 1822.8 672.1 1826.9 671.1 1828.2" fill="none" stroke="#8e3d99" stroke-width="1.9"/>
<path d="M610.8 1844.1 C612.4 1842.5 617.4 1837.2 620.3 1834.6 C623.2 1831.9 625.3 1829.0 628.2 1828.2 C631.2 1827.4 635.1 1828.5 637.8 1829.8 C640.4 1831.1 644.4 1834.3 644.1 1836.2 C643.8 1838.0 639.1 1839.3 636.2 1840.9 C633.3 1842.5 629.6 1844.4 626.7 1845.7 C623.7 1847.0 621.4 1849.1 618.7 1848.9 C616.1 1848.6 612.1 1844.9 610.8 1844.1" fill="none" stroke="#8e3d99" stroke-width="1.9"/>
<path d="M637.8 1829.8 C639.1 1831.4 642.8 1837.0 645.7 1839.3 C648.6 1841.7 652.3 1843.6 655.2 1844.1 C658.1 1844.6 661.0 1843.8 663.2 1842.5 C665.3 1841.2 667.1 1837.2 667.9 1836.2" fill="none" stroke="#8e3d99" stroke-width="1.9"/>
<path d="M639.4 1845.7 C639.7 1847.0 640.4 1851.5 641.7 1853.6 C643.1 1855.7 646.4 1857.6 647.3 1858.4" fill="none" stroke="#8e3d99" stroke-width="1.9"/>
<path d="M607.6 1855.2 C608.7 1854.9 611.8 1853.2 614.0 1853.6 C616.1 1854.0 619.2 1856.9 620.3 1857.6" fill="none" stroke="#8e3d99" stroke-width="1.9"/>
<path d="M671.1 1813.1 C670.8 1815.1 669.5 1821.5 669.5 1825.0 C669.5 1828.6 670.8 1833.0 671.1 1834.6" fill="none" stroke="#8e3d99" stroke-width="1.9"/>
<path d="M720.3 1730.6 C722.4 1730.4 730.3 1731.2 733.0 1729.5 C735.7 1727.8 734.6 1723.4 736.5 1720.3 C738.3 1717.2 741.0 1713.1 744.1 1710.8 C747.2 1708.5 751.5 1706.6 755.2 1706.3 C758.9 1706.1 763.1 1707.1 766.3 1709.2 C769.5 1711.3 772.4 1715.3 774.2 1718.7 C776.1 1722.2 777.4 1725.6 777.4 1729.8 C777.4 1734.1 776.1 1740.1 774.2 1744.1 C772.4 1748.1 769.5 1751.5 766.3 1753.6 C763.1 1755.8 758.9 1756.0 755.2 1757.1 C751.5 1758.2 747.3 1758.2 744.1 1760.3 C740.9 1762.4 738.1 1765.6 736.2 1769.5 C734.2 1773.4 733.0 1779.0 732.2 1783.8 C731.4 1788.5 731.4 1793.6 731.4 1798.1 C731.4 1802.6 732.1 1808.6 732.2 1810.8" fill="none" stroke="#62c4d6" stroke-width="4.6" stroke-dasharray="9.5 2.4"/>
<path d="M768 1827.5 l-7 5 l9 1.6" fill="none" stroke="#62c4d6" stroke-width="1.3"/>
<text x="663" y="1734.6" font-size="14.8" font-weight="bold" fill="#1a1208">Pro 409</text>
<text x="753.5" y="1853.5" font-size="14.8" font-weight="bold" fill="#3a1a0a">Glu 396</text>
<text x="585" y="1652" font-size="23.7" fill="#1a1a1a">Proline-rich insertion</text>
<line x1="746.4" y1="1658" x2="746.4" y2="1686" stroke="#111" stroke-width="1.4"/>
<path d="M746.4 1695.5 l-7 -13 h14z" fill="#111"/>
<line x1="605.7" y1="1880.1" x2="605.7" y2="1989.3" stroke="#111" stroke-width="1.4"/>
<line x1="605.0" y1="1989.3" x2="816.5" y2="1989.3" stroke="#111" stroke-width="1.4"/>
<line x1="601.7" y1="1989.3" x2="605.7" y2="1989.3" stroke="#111" stroke-width="1"/>
<line x1="603.2" y1="1977.2777777777778" x2="605.7" y2="1977.2777777777778" stroke="#111" stroke-width="1"/>
<line x1="603.2" y1="1965.2555555555555" x2="605.7" y2="1965.2555555555555" stroke="#111" stroke-width="1"/>
<line x1="601.7" y1="1953.2333333333333" x2="605.7" y2="1953.2333333333333" stroke="#111" stroke-width="1"/>
<line x1="603.2" y1="1941.211111111111" x2="605.7" y2="1941.211111111111" stroke="#111" stroke-width="1"/>
<line x1="603.2" y1="1929.1888888888889" x2="605.7" y2="1929.1888888888889" stroke="#111" stroke-width="1"/>
<line x1="601.7" y1="1917.1666666666665" x2="605.7" y2="1917.1666666666665" stroke="#111" stroke-width="1"/>
<line x1="603.2" y1="1905.1444444444444" x2="605.7" y2="1905.1444444444444" stroke="#111" stroke-width="1"/>
<line x1="603.2" y1="1893.122222222222" x2="605.7" y2="1893.122222222222" stroke="#111" stroke-width="1"/>
<line x1="601.7" y1="1881.1" x2="605.7" y2="1881.1" stroke="#111" stroke-width="1"/>
<text x="600.2" y="1884.1" font-size="8.6" text-anchor="end" fill="#666">0.9</text>
<text x="600.2" y="1920.1666666666665" font-size="8.6" text-anchor="end" fill="#666">0.6</text>
<text x="600.2" y="1956.2333333333333" font-size="8.6" text-anchor="end" fill="#666">0.3</text>
<text x="600.2" y="1992.3" font-size="8.6" text-anchor="end" fill="#666">0</text>
<line x1="605.7" y1="1989.3" x2="605.7" y2="1992.8" stroke="#111" stroke-width="1"/>
<text x="605.7" y="2002.0" font-size="8.6" text-anchor="middle" fill="#666">390</text>
<line x1="633.25" y1="1989.3" x2="633.25" y2="1992.8" stroke="#111" stroke-width="1"/>
<text x="633.25" y="2002.0" font-size="8.6" text-anchor="middle" fill="#666">400</text>
<line x1="660.8000000000001" y1="1989.3" x2="660.8000000000001" y2="1992.8" stroke="#111" stroke-width="1"/>
<text x="660.8000000000001" y="2002.0" font-size="8.6" text-anchor="middle" fill="#666">410</text>
<line x1="688.35" y1="1989.3" x2="688.35" y2="1992.8" stroke="#111" stroke-width="1"/>
<text x="688.35" y="2002.0" font-size="8.6" text-anchor="middle" fill="#666">420</text>
<line x1="715.9000000000001" y1="1989.3" x2="715.9000000000001" y2="1992.8" stroke="#111" stroke-width="1"/>
<text x="715.9000000000001" y="2002.0" font-size="8.6" text-anchor="middle" fill="#666">430</text>
<line x1="743.45" y1="1989.3" x2="743.45" y2="1992.8" stroke="#111" stroke-width="1"/>
<text x="743.45" y="2002.0" font-size="8.6" text-anchor="middle" fill="#666">440</text>
<line x1="771.0" y1="1989.3" x2="771.0" y2="1992.8" stroke="#111" stroke-width="1"/>
<text x="771.0" y="2002.0" font-size="8.6" text-anchor="middle" fill="#666">450</text>
<path d="M605.7 1942.6 C607.1 1942.8 611.4 1942.3 614.1 1943.6 C616.8 1945.0 619.5 1947.5 622.1 1950.7 C624.8 1953.8 627.6 1959.0 630.1 1962.7 C632.6 1966.4 635.3 1970.9 637.2 1972.7 C639.0 1974.5 639.7 1974.4 641.2 1973.7 C642.7 1973.0 644.0 1972.9 646.2 1968.7 C648.3 1964.5 651.5 1956.3 654.2 1948.7 C656.9 1941.0 659.5 1930.1 662.2 1922.6 C664.9 1915.1 667.5 1907.1 670.2 1903.6 C672.9 1900.1 675.2 1902.6 678.2 1901.6 C681.2 1900.6 684.6 1898.7 688.3 1897.6 C691.9 1896.5 696.9 1895.6 700.3 1894.9 C703.6 1894.3 705.6 1893.1 708.3 1893.5 C711.0 1894.0 713.6 1895.7 716.3 1897.6 C719.0 1899.4 721.7 1903.1 724.3 1904.6 C727.0 1906.1 729.7 1906.7 732.3 1906.6 C735.0 1906.4 737.5 1904.9 740.4 1903.6 C743.2 1902.2 746.5 1899.1 749.4 1898.6 C752.2 1898.1 754.6 1897.9 757.4 1900.6 C760.2 1903.2 763.2 1909.2 766.4 1914.6 C769.6 1919.9 773.4 1927.8 776.4 1932.6 C779.4 1937.5 782.1 1941.5 784.4 1943.6 C786.8 1945.8 788.0 1946.3 790.5 1945.7 C793.0 1945.0 798.0 1940.6 799.5 1939.6" fill="none" stroke="#c01c28" stroke-width="1.7" stroke-dasharray="5.5 2.8"/>
<text transform="translate(581.5 1941) rotate(-90)" font-size="21.2" text-anchor="middle" fill="#555">Disord. prop.</text>
<text x="716.3" y="2022.8" font-size="22.7" text-anchor="middle" fill="#555">Residue number</text>

<text transform="translate(1112.3 1328.6) scale(0.94 1)" font-size="71.3" font-weight="bold" fill="#1c1c1c">D</text>
<text x="1268.5" y="1409.7" font-size="33.7" font-style="italic" fill="#1a1a1a">Pla2g6</text>
<text x="1329.2" y="1451.7" font-size="30" text-anchor="middle" fill="#1a1a1a">9</text>
<text x="1597" y="1451.7" font-size="30" text-anchor="middle" fill="#1a1a1a">10</text>
<text x="1684" y="1451.7" font-size="30" text-anchor="middle" fill="#1a1a1a">11</text>
<line x1="1330" y1="1485" x2="1681" y2="1485" stroke="#1a1a1a" stroke-width="2.6"/>
<rect x="1327.40" y="1461.70" width="6.00" height="43.20" fill="#1a1a1a"/>
<rect x="1678.00" y="1461.70" width="5.60" height="43.20" fill="#1a1a1a"/>
<rect x="1577.30" y="1461.30" width="35.80" height="44.00" fill="#1a9ad9"/>
<path d="M1334 1459.7 L1457 1447 L1577.3 1460.5 M1613 1459.7 L1645.6 1448.6 L1678.5 1459.7" fill="none" stroke="#222" stroke-width="1.4" stroke-dasharray="3.4 2.6"/>
<rect x="1596.80" y="1508.00" width="21.80" height="5.60" fill="#f4a6a8"/>
<rect x="1596.80" y="1508.00" width="21.80" height="1.40" fill="#e0303a"/>
<rect x="1597.20" y="1508.60" width="1.10" height="5.00" fill="#e0303a"/>
<rect x="1599.45" y="1508.60" width="1.10" height="5.00" fill="#e0303a"/>
<rect x="1601.70" y="1508.60" width="1.10" height="5.00" fill="#e0303a"/>
<rect x="1603.95" y="1508.60" width="1.10" height="5.00" fill="#e0303a"/>
<rect x="1606.20" y="1508.60" width="1.10" height="5.00" fill="#e0303a"/>
<rect x="1608.45" y="1508.60" width="1.10" height="5.00" fill="#e0303a"/>
<rect x="1610.70" y="1508.60" width="1.10" height="5.00" fill="#e0303a"/>
<rect x="1612.95" y="1508.60" width="1.10" height="5.00" fill="#e0303a"/>
<rect x="1615.20" y="1508.60" width="1.10" height="5.00" fill="#e0303a"/>
<rect x="1617.45" y="1508.60" width="1.10" height="5.00" fill="#e0303a"/>
<text x="1605" y="1543.8" font-size="24.4" text-anchor="middle" fill="#1a1a1a">SSO5.1</text>
<text x="1481.7" y="1592.8" font-size="31.2" text-anchor="middle" font-style="italic" fill="#000">Pla2g6</text>
<text x="1506.2" y="1626.7" font-size="26.6" text-anchor="middle" font-style="italic" fill="#333">P=0.0006</text>
<path d="M1466 1649.8 V1638.2 H1531.9 V1649.8" fill="none" stroke="#222" stroke-width="2.4"/>
<line x1="1423.2" y1="1642.8" x2="1423.2" y2="1977.3" stroke="#000" stroke-width="2.6"/>
<line x1="1413.3" y1="1976" x2="1572.4" y2="1976" stroke="#000" stroke-width="2.6"/>
<line x1="1413.3" y1="1976.0" x2="1423.2" y2="1976.0" stroke="#000" stroke-width="2.6"/>
<text x="1403.6" y="1982.8" font-size="26.2" text-anchor="end" fill="#000">0</text>
<line x1="1413.3" y1="1893.025" x2="1423.2" y2="1893.025" stroke="#000" stroke-width="2.6"/>
<text x="1403.6" y="1899.825" font-size="26.2" text-anchor="end" fill="#000">5</text>
<line x1="1413.3" y1="1810.05" x2="1423.2" y2="1810.05" stroke="#000" stroke-width="2.6"/>
<text x="1403.6" y="1816.85" font-size="26.2" text-anchor="end" fill="#000">10</text>
<line x1="1413.3" y1="1727.075" x2="1423.2" y2="1727.075" stroke="#000" stroke-width="2.6"/>
<text x="1403.6" y="1733.875" font-size="26.2" text-anchor="end" fill="#000">15</text>
<line x1="1413.3" y1="1644.1" x2="1423.2" y2="1644.1" stroke="#000" stroke-width="2.6"/>
<text x="1403.6" y="1650.8999999999999" font-size="26.2" text-anchor="end" fill="#000">20</text>
<line x1="1466" y1="1976" x2="1466" y2="1987.5" stroke="#000" stroke-width="2.6"/>
<line x1="1531.4" y1="1976" x2="1531.4" y2="1987.5" stroke="#000" stroke-width="2.6"/>
<rect x="1446.00" y="1725.90" width="40.00" height="250.10" fill="#c8b89e" stroke="#1a1a1a" stroke-width="3.2"/>
<rect x="1511.00" y="1829.90" width="39.40" height="146.10" fill="#dedc0c" stroke="#1a1a1a" stroke-width="3.2"/>
<line x1="1466" y1="1706.2" x2="1466" y2="1740.6" stroke="#111" stroke-width="3.2"/>
<line x1="1453.8" y1="1706.2" x2="1478.2" y2="1706.2" stroke="#111" stroke-width="3.2"/>
<line x1="1453.8" y1="1740.6" x2="1478.2" y2="1740.6" stroke="#111" stroke-width="3.2"/>
<line x1="1530.5" y1="1818.5" x2="1530.5" y2="1834.5" stroke="#111" stroke-width="3.2"/>
<line x1="1518.3" y1="1818.5" x2="1542.7" y2="1818.5" stroke="#111" stroke-width="3.2"/>
<line x1="1518.3" y1="1834.5" x2="1542.7" y2="1834.5" stroke="#111" stroke-width="3.2"/>
<circle cx="1466.0" cy="1665.1" r="4.8" fill="none" stroke="#1a1a1a" stroke-width="2.1"/>
<circle cx="1460.1" cy="1704.4" r="4.8" fill="none" stroke="#1a1a1a" stroke-width="2.1"/>
<circle cx="1472.3" cy="1704.4" r="4.8" fill="none" stroke="#1a1a1a" stroke-width="2.1"/>
<circle cx="1466.0" cy="1728.2" r="4.8" fill="none" stroke="#1a1a1a" stroke-width="2.1"/>
<circle cx="1466.0" cy="1753.0" r="4.8" fill="none" stroke="#1a1a1a" stroke-width="2.1"/>
<circle cx="1466.0" cy="1786.2" r="4.8" fill="none" stroke="#1a1a1a" stroke-width="2.1"/>
<circle cx="1530.3" cy="1801.4" r="4.8" fill="none" stroke="#1a1a1a" stroke-width="2.1"/>
<circle cx="1524.4" cy="1824.0" r="4.8" fill="none" stroke="#1a1a1a" stroke-width="2.1"/>
<circle cx="1536.6" cy="1824.0" r="4.8" fill="none" stroke="#1a1a1a" stroke-width="2.1"/>
<circle cx="1536.6" cy="1840.0" r="4.8" fill="none" stroke="#1a1a1a" stroke-width="2.1"/>
<circle cx="1523.7" cy="1846.0" r="4.8" fill="none" stroke="#1a1a1a" stroke-width="2.1"/>
<text x="1468.3" y="2008.4" font-size="25.8" text-anchor="middle" fill="#000">Scr</text>
<text x="1544.3" y="2008.4" font-size="25.4" text-anchor="middle" fill="#000">SSO5.1</text>
<text transform="translate(1338.9 1796.5) rotate(-90)" font-size="27.6" text-anchor="middle" fill="#000">PSI (exon 10)</text>

<text transform="translate(16.2 2090.9) scale(0.94 1)" font-size="71.3" font-weight="bold" fill="#1c1c1c">E</text>
<text x="154.5" y="2168.6" font-size="30" fill="#111">PC/LPC</text>
<line x1="164" y1="2232.5" x2="164" y2="2540.2000000000003" stroke="#000" stroke-width="2.8"/>
<line x1="153" y1="2538.8" x2="314.3" y2="2538.8" stroke="#000" stroke-width="2.8"/>
<line x1="153" y1="2233.9" x2="164" y2="2233.9" stroke="#000" stroke-width="2.8"/>
<text x="143.7" y="2241.5" font-size="28.5" text-anchor="end" fill="#000">500</text>
<line x1="153" y1="2295.5" x2="164" y2="2295.5" stroke="#000" stroke-width="2.8"/>
<text x="143.7" y="2303.1" font-size="28.5" text-anchor="end" fill="#000">400</text>
<line x1="153" y1="2356.4" x2="164" y2="2356.4" stroke="#000" stroke-width="2.8"/>
<text x="143.7" y="2364.0" font-size="28.5" text-anchor="end" fill="#000">300</text>
<line x1="153" y1="2417.2" x2="164" y2="2417.2" stroke="#000" stroke-width="2.8"/>
<text x="143.7" y="2424.7999999999997" font-size="28.5" text-anchor="end" fill="#000">200</text>
<line x1="153" y1="2478" x2="164" y2="2478" stroke="#000" stroke-width="2.8"/>
<text x="143.7" y="2485.6" font-size="28.5" text-anchor="end" fill="#000">100</text>
<line x1="153" y1="2538.8" x2="164" y2="2538.8" stroke="#000" stroke-width="2.8"/>
<text x="143.7" y="2546.4" font-size="28.5" text-anchor="end" fill="#000">0</text>
<line x1="206.14999999999998" y1="2538.8" x2="206.14999999999998" y2="2550.3" stroke="#000" stroke-width="2.8"/>
<rect x="187.30" y="2309.80" width="37.70" height="229.00" fill="#c8b89e" stroke="#000" stroke-width="3.2"/>
<line x1="271.45" y1="2538.8" x2="271.45" y2="2550.3" stroke="#000" stroke-width="2.8"/>
<rect x="252.60" y="2274.30" width="37.70" height="264.50" fill="#dedc0c" stroke="#000" stroke-width="3.2"/>
<circle cx="206.1" cy="2263.7" r="4.6" fill="#fff" stroke="#000" stroke-width="1.7"/>
<circle cx="199.2" cy="2281.7" r="4.6" fill="#fff" stroke="#000" stroke-width="1.7"/>
<circle cx="213.1" cy="2284.1" r="4.6" fill="#fff" stroke="#000" stroke-width="1.7"/>
<circle cx="199.2" cy="2329.8" r="4.6" fill="#fff" stroke="#000" stroke-width="1.7"/>
<circle cx="213.1" cy="2333.1" r="4.6" fill="#fff" stroke="#000" stroke-width="1.7"/>
<circle cx="206.1" cy="2347.0" r="4.6" fill="#fff" stroke="#000" stroke-width="1.7"/>
<circle cx="271.5" cy="2248.2" r="4.6" fill="#fff" stroke="#000" stroke-width="1.7"/>
<circle cx="264.5" cy="2260.4" r="4.6" fill="#fff" stroke="#000" stroke-width="1.7"/>
<circle cx="278.4" cy="2262.5" r="4.6" fill="#fff" stroke="#000" stroke-width="1.7"/>
<circle cx="264.5" cy="2268.6" r="4.6" fill="#fff" stroke="#000" stroke-width="1.7"/>
<circle cx="278.4" cy="2274.7" r="4.6" fill="#fff" stroke="#000" stroke-width="1.7"/>
<circle cx="271.5" cy="2312.7" r="4.6" fill="#fff" stroke="#000" stroke-width="1.7"/>
<rect x="188.90" y="2311.40" width="34.50" height="226.20" fill="#c8b89e" opacity="0.85"/>
<rect x="254.20" y="2275.90" width="34.50" height="261.70" fill="#dedc0c" opacity="0.85"/>
<circle cx="206.1" cy="2263.7" r="4.6" fill="none" stroke="#120a00" stroke-width="1.6"/>
<circle cx="199.2" cy="2281.7" r="4.6" fill="none" stroke="#120a00" stroke-width="1.6"/>
<circle cx="213.1" cy="2284.1" r="4.6" fill="none" stroke="#120a00" stroke-width="1.6"/>
<circle cx="199.2" cy="2329.8" r="4.6" fill="none" stroke="#120a00" stroke-width="1.6"/>
<circle cx="213.1" cy="2333.1" r="4.6" fill="none" stroke="#120a00" stroke-width="1.6"/>
<circle cx="206.1" cy="2347.0" r="4.6" fill="none" stroke="#120a00" stroke-width="1.6"/>
<circle cx="271.5" cy="2248.2" r="4.6" fill="none" stroke="#120a00" stroke-width="1.6"/>
<circle cx="264.5" cy="2260.4" r="4.6" fill="none" stroke="#120a00" stroke-width="1.6"/>
<circle cx="278.4" cy="2262.5" r="4.6" fill="none" stroke="#120a00" stroke-width="1.6"/>
<circle cx="264.5" cy="2268.6" r="4.6" fill="none" stroke="#120a00" stroke-width="1.6"/>
<circle cx="278.4" cy="2274.7" r="4.6" fill="none" stroke="#120a00" stroke-width="1.6"/>
<circle cx="271.5" cy="2312.7" r="4.6" fill="none" stroke="#120a00" stroke-width="1.6"/>
<line x1="206.1" y1="2293.084" x2="206.1" y2="2321.658" stroke="#000" stroke-width="3"/>
<line x1="194.1" y1="2293.084" x2="218.1" y2="2293.084" stroke="#000" stroke-width="3"/>
<line x1="194.1" y1="2321.658" x2="218.1" y2="2321.658" stroke="#000" stroke-width="3"/>
<line x1="271.5" y1="2260.428" x2="271.5" y2="2280.838" stroke="#000" stroke-width="3"/>
<line x1="259.5" y1="2260.428" x2="283.5" y2="2260.428" stroke="#000" stroke-width="3"/>
<line x1="259.5" y1="2280.838" x2="283.5" y2="2280.838" stroke="#000" stroke-width="3"/>
<text x="200" y="2572" font-size="23.4" text-anchor="middle" fill="#111">Scr</text>
<text x="273.5" y="2572" font-size="22.2" text-anchor="middle" fill="#111">SSO5.1</text>
<text transform="translate(76 2385.5) rotate(-90)" font-size="36.5" text-anchor="middle" fill="#000">Ratio</text>
<text x="464" y="2168.6" font-size="30" fill="#111">PC/PE</text>
<line x1="472.3" y1="2235.7999999999997" x2="472.3" y2="2541.4" stroke="#000" stroke-width="2.8"/>
<line x1="461.3" y1="2540" x2="621.3" y2="2540" stroke="#000" stroke-width="2.8"/>
<line x1="461.3" y1="2237.2" x2="472.3" y2="2237.2" stroke="#000" stroke-width="2.8"/>
<text x="455.5" y="2243.75" font-size="29" text-anchor="end" fill="#000">20</text>
<line x1="461.3" y1="2312.7" x2="472.3" y2="2312.7" stroke="#000" stroke-width="2.8"/>
<text x="455.5" y="2319.25" font-size="29" text-anchor="end" fill="#000">15</text>
<line x1="461.3" y1="2388.6" x2="472.3" y2="2388.6" stroke="#000" stroke-width="2.8"/>
<text x="455.5" y="2395.15" font-size="29" text-anchor="end" fill="#000">10</text>
<line x1="461.3" y1="2464.5" x2="472.3" y2="2464.5" stroke="#000" stroke-width="2.8"/>
<text x="455.5" y="2471.05" font-size="29" text-anchor="end" fill="#000">5</text>
<line x1="461.3" y1="2540" x2="472.3" y2="2540" stroke="#000" stroke-width="2.8"/>
<text x="455.5" y="2546.55" font-size="29" text-anchor="end" fill="#000">0</text>
<line x1="513.9000000000001" y1="2540" x2="513.9000000000001" y2="2551.5" stroke="#000" stroke-width="2.8"/>
<rect x="494.70" y="2297.90" width="38.40" height="242.10" fill="#c8b89e" stroke="#000" stroke-width="3.2"/>
<line x1="578.0" y1="2540" x2="578.0" y2="2551.5" stroke="#000" stroke-width="2.8"/>
<rect x="558.80" y="2307.70" width="38.40" height="232.30" fill="#dedc0c" stroke="#000" stroke-width="3.2"/>
<circle cx="495.1" cy="2287.0" r="4.6" fill="#fff" stroke="#000" stroke-width="1.7"/>
<circle cx="519.2" cy="2284.9" r="4.6" fill="#fff" stroke="#000" stroke-width="1.7"/>
<circle cx="495.1" cy="2301.2" r="4.6" fill="#fff" stroke="#000" stroke-width="1.7"/>
<circle cx="507.4" cy="2296.3" r="4.6" fill="#fff" stroke="#000" stroke-width="1.7"/>
<circle cx="519.2" cy="2301.2" r="4.6" fill="#fff" stroke="#000" stroke-width="1.7"/>
<circle cx="531.5" cy="2300.0" r="4.6" fill="#fff" stroke="#000" stroke-width="1.7"/>
<circle cx="560.1" cy="2301.2" r="4.6" fill="#fff" stroke="#000" stroke-width="1.7"/>
<circle cx="569.4" cy="2301.2" r="4.6" fill="#fff" stroke="#000" stroke-width="1.7"/>
<circle cx="578.8" cy="2300.4" r="4.6" fill="#fff" stroke="#000" stroke-width="1.7"/>
<circle cx="587.8" cy="2307.4" r="4.6" fill="#fff" stroke="#000" stroke-width="1.7"/>
<circle cx="569.4" cy="2315.5" r="4.6" fill="#fff" stroke="#000" stroke-width="1.7"/>
<circle cx="596.0" cy="2302.1" r="4.6" fill="#fff" stroke="#000" stroke-width="1.7"/>
<rect x="496.30" y="2299.50" width="35.20" height="239.30" fill="#c8b89e" opacity="0.85"/>
<rect x="560.40" y="2309.30" width="35.20" height="229.50" fill="#dedc0c" opacity="0.85"/>
<circle cx="495.1" cy="2287.0" r="4.6" fill="none" stroke="#120a00" stroke-width="1.6"/>
<circle cx="519.2" cy="2284.9" r="4.6" fill="none" stroke="#120a00" stroke-width="1.6"/>
<circle cx="495.1" cy="2301.2" r="4.6" fill="none" stroke="#120a00" stroke-width="1.6"/>
<circle cx="507.4" cy="2296.3" r="4.6" fill="none" stroke="#120a00" stroke-width="1.6"/>
<circle cx="519.2" cy="2301.2" r="4.6" fill="none" stroke="#120a00" stroke-width="1.6"/>
<circle cx="531.5" cy="2300.0" r="4.6" fill="none" stroke="#120a00" stroke-width="1.6"/>
<circle cx="560.1" cy="2301.2" r="4.6" fill="none" stroke="#120a00" stroke-width="1.6"/>
<circle cx="569.4" cy="2301.2" r="4.6" fill="none" stroke="#120a00" stroke-width="1.6"/>
<circle cx="578.8" cy="2300.4" r="4.6" fill="none" stroke="#120a00" stroke-width="1.6"/>
<circle cx="587.8" cy="2307.4" r="4.6" fill="none" stroke="#120a00" stroke-width="1.6"/>
<circle cx="569.4" cy="2315.5" r="4.6" fill="none" stroke="#120a00" stroke-width="1.6"/>
<circle cx="596.0" cy="2302.1" r="4.6" fill="none" stroke="#120a00" stroke-width="1.6"/>
<line x1="513.9" y1="2292.2676" x2="513.9" y2="2299.6152" stroke="#000" stroke-width="3"/>
<line x1="501.9" y1="2292.2676" x2="525.9" y2="2292.2676" stroke="#000" stroke-width="3"/>
<line x1="501.9" y1="2299.6152" x2="525.9" y2="2299.6152" stroke="#000" stroke-width="3"/>
<line x1="578" y1="2302.4726" x2="578" y2="2308.1874" stroke="#000" stroke-width="3"/>
<line x1="566" y1="2302.4726" x2="590" y2="2302.4726" stroke="#000" stroke-width="3"/>
<line x1="566" y1="2308.1874" x2="590" y2="2308.1874" stroke="#000" stroke-width="3"/>
<text x="509.6" y="2572" font-size="23.4" text-anchor="middle" fill="#111">Scr</text>
<text x="585.8" y="2572" font-size="22.2" text-anchor="middle" fill="#111">SSO5.1</text>
<text transform="translate(385 2385.5) rotate(-90)" font-size="36.5" text-anchor="middle" fill="#000">Ratio</text>
<text x="550.5" y="2243.3" font-size="22.5" text-anchor="middle" font-style="italic" fill="#333">P=0.017</text>
<path d="M515.1 2263.7 V2252.3 H581.7 V2263.7" fill="none" stroke="#222" stroke-width="2.2"/>
<text x="773" y="2168.6" font-size="30" fill="#111">PC/FFA</text>
<line x1="779.6" y1="2234.5" x2="779.6" y2="2541.4" stroke="#000" stroke-width="2.8"/>
<line x1="768.6" y1="2540" x2="929.8" y2="2540" stroke="#000" stroke-width="2.8"/>
<line x1="768.6" y1="2235.9" x2="779.6" y2="2235.9" stroke="#000" stroke-width="2.8"/>
<text x="764.6" y="2244.55" font-size="29" text-anchor="end" fill="#000">25</text>
<line x1="768.6" y1="2297.2" x2="779.6" y2="2297.2" stroke="#000" stroke-width="2.8"/>
<text x="764.6" y="2305.85" font-size="29" text-anchor="end" fill="#000">20</text>
<line x1="768.6" y1="2358" x2="779.6" y2="2358" stroke="#000" stroke-width="2.8"/>
<text x="764.6" y="2366.65" font-size="29" text-anchor="end" fill="#000">15</text>
<line x1="768.6" y1="2418.8" x2="779.6" y2="2418.8" stroke="#000" stroke-width="2.8"/>
<text x="764.6" y="2427.4500000000003" font-size="29" text-anchor="end" fill="#000">10</text>
<line x1="768.6" y1="2479.2" x2="779.6" y2="2479.2" stroke="#000" stroke-width="2.8"/>
<text x="764.6" y="2487.85" font-size="29" text-anchor="end" fill="#000">5</text>
<line x1="768.6" y1="2540" x2="779.6" y2="2540" stroke="#000" stroke-width="2.8"/>
<text x="764.6" y="2548.65" font-size="29" text-anchor="end" fill="#000">0</text>
<line x1="822.45" y1="2540" x2="822.45" y2="2551.5" stroke="#000" stroke-width="2.8"/>
<rect x="803.20" y="2345.70" width="38.50" height="194.30" fill="#c8b89e" stroke="#000" stroke-width="3.2"/>
<line x1="886.55" y1="2540" x2="886.55" y2="2551.5" stroke="#000" stroke-width="2.8"/>
<rect x="867.30" y="2411.80" width="38.50" height="128.20" fill="#dedc0c" stroke="#000" stroke-width="3.2"/>
<circle cx="822.5" cy="2261.2" r="4.6" fill="#fff" stroke="#000" stroke-width="1.7"/>
<circle cx="815.5" cy="2344.9" r="4.6" fill="#fff" stroke="#000" stroke-width="1.7"/>
<circle cx="829.0" cy="2344.1" r="4.6" fill="#fff" stroke="#000" stroke-width="1.7"/>
<circle cx="822.5" cy="2323.7" r="4.6" fill="#fff" stroke="#000" stroke-width="1.7"/>
<circle cx="815.5" cy="2393.1" r="4.6" fill="#fff" stroke="#000" stroke-width="1.7"/>
<circle cx="829.0" cy="2389.0" r="4.6" fill="#fff" stroke="#000" stroke-width="1.7"/>
<circle cx="873.5" cy="2391.9" r="4.6" fill="#fff" stroke="#000" stroke-width="1.7"/>
<circle cx="887.0" cy="2387.8" r="4.6" fill="#fff" stroke="#000" stroke-width="1.7"/>
<circle cx="880.8" cy="2399.2" r="4.6" fill="#fff" stroke="#000" stroke-width="1.7"/>
<circle cx="873.5" cy="2426.6" r="4.6" fill="#fff" stroke="#000" stroke-width="1.7"/>
<circle cx="887.0" cy="2422.5" r="4.6" fill="#fff" stroke="#000" stroke-width="1.7"/>
<circle cx="900.0" cy="2425.3" r="4.6" fill="#fff" stroke="#000" stroke-width="1.7"/>
<rect x="804.80" y="2347.30" width="35.30" height="191.50" fill="#c8b89e" opacity="0.85"/>
<rect x="868.90" y="2413.40" width="35.30" height="125.40" fill="#dedc0c" opacity="0.85"/>
<circle cx="822.5" cy="2261.2" r="4.6" fill="none" stroke="#120a00" stroke-width="1.6"/>
<circle cx="815.5" cy="2344.9" r="4.6" fill="none" stroke="#120a00" stroke-width="1.6"/>
<circle cx="829.0" cy="2344.1" r="4.6" fill="none" stroke="#120a00" stroke-width="1.6"/>
<circle cx="822.5" cy="2323.7" r="4.6" fill="none" stroke="#120a00" stroke-width="1.6"/>
<circle cx="815.5" cy="2393.1" r="4.6" fill="none" stroke="#120a00" stroke-width="1.6"/>
<circle cx="829.0" cy="2389.0" r="4.6" fill="none" stroke="#120a00" stroke-width="1.6"/>
<circle cx="873.5" cy="2391.9" r="4.6" fill="none" stroke="#120a00" stroke-width="1.6"/>
<circle cx="887.0" cy="2387.8" r="4.6" fill="none" stroke="#120a00" stroke-width="1.6"/>
<circle cx="880.8" cy="2399.2" r="4.6" fill="none" stroke="#120a00" stroke-width="1.6"/>
<circle cx="873.5" cy="2426.6" r="4.6" fill="none" stroke="#120a00" stroke-width="1.6"/>
<circle cx="887.0" cy="2422.5" r="4.6" fill="none" stroke="#120a00" stroke-width="1.6"/>
<circle cx="900.0" cy="2425.3" r="4.6" fill="none" stroke="#120a00" stroke-width="1.6"/>
<line x1="822.5" y1="2322.8772" x2="822.5" y2="2361.248" stroke="#000" stroke-width="3"/>
<line x1="810.5" y1="2322.8772" x2="834.5" y2="2322.8772" stroke="#000" stroke-width="3"/>
<line x1="810.5" y1="2361.248" x2="834.5" y2="2361.248" stroke="#000" stroke-width="3"/>
<line x1="886.5" y1="2401.2516" x2="886.5" y2="2416.355" stroke="#000" stroke-width="3"/>
<line x1="874.5" y1="2401.2516" x2="898.5" y2="2401.2516" stroke="#000" stroke-width="3"/>
<line x1="874.5" y1="2416.355" x2="898.5" y2="2416.355" stroke="#000" stroke-width="3"/>
<text x="819" y="2572" font-size="23.4" text-anchor="middle" fill="#111">Scr</text>
<text x="891.9" y="2572" font-size="22.2" text-anchor="middle" fill="#111">SSO5.1</text>
<text transform="translate(694.3 2385.5) rotate(-90)" font-size="36.5" text-anchor="middle" fill="#000">Ratio</text>
<text x="853.5" y="2223.3" font-size="22.5" text-anchor="middle" font-style="italic" fill="#333">P=0.010</text>
<path d="M820.8 2242 V2231.4 H887 V2242" fill="none" stroke="#222" stroke-width="2.2"/>
<text x="1068.5" y="2168.6" font-size="30" fill="#111">Sphingomyelin</text>
<line x1="1079.2" y1="2233.2999999999997" x2="1079.2" y2="2540.6" stroke="#000" stroke-width="2.8"/>
<line x1="1068.2" y1="2539.2" x2="1231.9" y2="2539.2" stroke="#000" stroke-width="2.8"/>
<line x1="1068.2" y1="2234.7" x2="1079.2" y2="2234.7" stroke="#000" stroke-width="2.8"/>
<text x="1063.7" y="2243.25" font-size="29" text-anchor="end" fill="#000">40</text>
<line x1="1068.2" y1="2311" x2="1079.2" y2="2311" stroke="#000" stroke-width="2.8"/>
<text x="1063.7" y="2319.55" font-size="29" text-anchor="end" fill="#000">30</text>
<line x1="1068.2" y1="2387" x2="1079.2" y2="2387" stroke="#000" stroke-width="2.8"/>
<text x="1063.7" y="2395.55" font-size="29" text-anchor="end" fill="#000">20</text>
<line x1="1068.2" y1="2463.3" x2="1079.2" y2="2463.3" stroke="#000" stroke-width="2.8"/>
<text x="1063.7" y="2471.8500000000004" font-size="29" text-anchor="end" fill="#000">10</text>
<line x1="1068.2" y1="2539.2" x2="1079.2" y2="2539.2" stroke="#000" stroke-width="2.8"/>
<text x="1063.7" y="2547.75" font-size="29" text-anchor="end" fill="#000">0</text>
<line x1="1122.9" y1="2539.2" x2="1122.9" y2="2550.7" stroke="#000" stroke-width="2.8"/>
<rect x="1103.70" y="2440.40" width="38.40" height="98.80" fill="#c8b89e" stroke="#000" stroke-width="3.2"/>
<line x1="1187.6" y1="2539.2" x2="1187.6" y2="2550.7" stroke="#000" stroke-width="2.8"/>
<rect x="1168.20" y="2425.30" width="38.80" height="113.90" fill="#dedc0c" stroke="#000" stroke-width="3.2"/>
<circle cx="1116.4" cy="2398.8" r="4.6" fill="#fff" stroke="#000" stroke-width="1.7"/>
<circle cx="1129.8" cy="2397.2" r="4.6" fill="#fff" stroke="#000" stroke-width="1.7"/>
<circle cx="1122.9" cy="2436.8" r="4.6" fill="#fff" stroke="#000" stroke-width="1.7"/>
<circle cx="1122.9" cy="2447.0" r="4.6" fill="#fff" stroke="#000" stroke-width="1.7"/>
<circle cx="1116.4" cy="2472.3" r="4.6" fill="#fff" stroke="#000" stroke-width="1.7"/>
<circle cx="1129.8" cy="2470.6" r="4.6" fill="#fff" stroke="#000" stroke-width="1.7"/>
<circle cx="1188.2" cy="2308.2" r="4.6" fill="#fff" stroke="#000" stroke-width="1.7"/>
<circle cx="1174.7" cy="2440.8" r="4.6" fill="#fff" stroke="#000" stroke-width="1.7"/>
<circle cx="1202.1" cy="2432.7" r="4.6" fill="#fff" stroke="#000" stroke-width="1.7"/>
<circle cx="1188.2" cy="2447.0" r="4.6" fill="#fff" stroke="#000" stroke-width="1.7"/>
<circle cx="1202.1" cy="2446.2" r="4.6" fill="#fff" stroke="#000" stroke-width="1.7"/>
<circle cx="1188.2" cy="2458.0" r="4.6" fill="#fff" stroke="#000" stroke-width="1.7"/>
<rect x="1105.30" y="2442.00" width="35.20" height="96.00" fill="#c8b89e" opacity="0.85"/>
<rect x="1169.80" y="2426.90" width="35.60" height="111.10" fill="#dedc0c" opacity="0.85"/>
<circle cx="1116.4" cy="2398.8" r="4.6" fill="none" stroke="#120a00" stroke-width="1.6"/>
<circle cx="1129.8" cy="2397.2" r="4.6" fill="none" stroke="#120a00" stroke-width="1.6"/>
<circle cx="1122.9" cy="2436.8" r="4.6" fill="none" stroke="#120a00" stroke-width="1.6"/>
<circle cx="1122.9" cy="2447.0" r="4.6" fill="none" stroke="#120a00" stroke-width="1.6"/>
<circle cx="1116.4" cy="2472.3" r="4.6" fill="none" stroke="#120a00" stroke-width="1.6"/>
<circle cx="1129.8" cy="2470.6" r="4.6" fill="none" stroke="#120a00" stroke-width="1.6"/>
<circle cx="1188.2" cy="2308.2" r="4.6" fill="none" stroke="#120a00" stroke-width="1.6"/>
<circle cx="1174.7" cy="2440.8" r="4.6" fill="none" stroke="#120a00" stroke-width="1.6"/>
<circle cx="1202.1" cy="2432.7" r="4.6" fill="none" stroke="#120a00" stroke-width="1.6"/>
<circle cx="1188.2" cy="2447.0" r="4.6" fill="none" stroke="#120a00" stroke-width="1.6"/>
<circle cx="1202.1" cy="2446.2" r="4.6" fill="none" stroke="#120a00" stroke-width="1.6"/>
<circle cx="1188.2" cy="2458.0" r="4.6" fill="none" stroke="#120a00" stroke-width="1.6"/>
<line x1="1122.9" y1="2423.7026" x2="1122.9" y2="2451.052" stroke="#000" stroke-width="3"/>
<line x1="1110.9" y1="2423.7026" x2="1134.9" y2="2423.7026" stroke="#000" stroke-width="3"/>
<line x1="1110.9" y1="2451.052" x2="1134.9" y2="2451.052" stroke="#000" stroke-width="3"/>
<line x1="1187.6" y1="2399.2106" x2="1187.6" y2="2446.1536" stroke="#000" stroke-width="3"/>
<line x1="1175.6" y1="2399.2106" x2="1199.6" y2="2399.2106" stroke="#000" stroke-width="3"/>
<line x1="1175.6" y1="2446.1536" x2="1199.6" y2="2446.1536" stroke="#000" stroke-width="3"/>
<text x="1120.2" y="2572" font-size="23.4" text-anchor="middle" fill="#111">Scr</text>
<text x="1192.3" y="2572" font-size="22.2" text-anchor="middle" fill="#111">SSO5.1</text>
<text transform="translate(1014 2385.7) rotate(-90)" font-size="36.5" text-anchor="middle" fill="#000">Normalised intensity</text>
<text x="1385.5" y="2168.6" font-size="30" fill="#111">PUFA/non-PUFA</text>
<text x="1394.5" y="2203.9" font-size="30" fill="#111">TAG</text>
<line x1="1394.7" y1="2234.9" x2="1394.7" y2="2541.0" stroke="#000" stroke-width="2.8"/>
<line x1="1383.7" y1="2539.6" x2="1540.2" y2="2539.6" stroke="#000" stroke-width="2.8"/>
<line x1="1383.7" y1="2236.3" x2="1394.7" y2="2236.3" stroke="#000" stroke-width="2.8"/>
<text x="1376.4" y="2242.6000000000004" font-size="28.5" text-anchor="end" fill="#000">0.4</text>
<line x1="1383.7" y1="2311.9" x2="1394.7" y2="2311.9" stroke="#000" stroke-width="2.8"/>
<text x="1376.4" y="2318.2000000000003" font-size="28.5" text-anchor="end" fill="#000">0.3</text>
<line x1="1383.7" y1="2388" x2="1394.7" y2="2388" stroke="#000" stroke-width="2.8"/>
<text x="1376.4" y="2394.3" font-size="28.5" text-anchor="end" fill="#000">0.2</text>
<line x1="1383.7" y1="2464" x2="1394.7" y2="2464" stroke="#000" stroke-width="2.8"/>
<text x="1376.4" y="2470.3" font-size="28.5" text-anchor="end" fill="#000">0.1</text>
<line x1="1383.7" y1="2539.6" x2="1394.7" y2="2539.6" stroke="#000" stroke-width="2.8"/>
<text x="1376.4" y="2545.9" font-size="28.5" text-anchor="end" fill="#000">0</text>
<line x1="1435.1" y1="2539.6" x2="1435.1" y2="2551.1" stroke="#000" stroke-width="2.8"/>
<rect x="1415.90" y="2279.00" width="38.40" height="260.60" fill="#c8b89e" stroke="#000" stroke-width="3.2"/>
<line x1="1498.65" y1="2539.6" x2="1498.65" y2="2551.1" stroke="#000" stroke-width="2.8"/>
<rect x="1478.90" y="2270.30" width="39.50" height="269.30" fill="#dedc0c" stroke="#000" stroke-width="3.2"/>
<circle cx="1416.8" cy="2284.1" r="4.6" fill="#fff" stroke="#000" stroke-width="1.7"/>
<circle cx="1424.5" cy="2273.8" r="4.6" fill="#fff" stroke="#000" stroke-width="1.7"/>
<circle cx="1430.7" cy="2272.3" r="4.6" fill="#fff" stroke="#000" stroke-width="1.7"/>
<circle cx="1440.0" cy="2276.4" r="4.6" fill="#fff" stroke="#000" stroke-width="1.7"/>
<circle cx="1452.8" cy="2267.1" r="4.6" fill="#fff" stroke="#000" stroke-width="1.7"/>
<circle cx="1452.8" cy="2280.0" r="4.6" fill="#fff" stroke="#000" stroke-width="1.7"/>
<circle cx="1481.1" cy="2270.7" r="4.6" fill="#fff" stroke="#000" stroke-width="1.7"/>
<circle cx="1488.8" cy="2267.1" r="4.6" fill="#fff" stroke="#000" stroke-width="1.7"/>
<circle cx="1497.6" cy="2269.7" r="4.6" fill="#fff" stroke="#000" stroke-width="1.7"/>
<circle cx="1506.8" cy="2268.7" r="4.6" fill="#fff" stroke="#000" stroke-width="1.7"/>
<circle cx="1516.1" cy="2262.0" r="4.6" fill="#fff" stroke="#000" stroke-width="1.7"/>
<circle cx="1516.1" cy="2273.8" r="4.6" fill="#fff" stroke="#000" stroke-width="1.7"/>
<rect x="1417.50" y="2280.60" width="35.20" height="257.80" fill="#c8b89e" opacity="0.85"/>
<rect x="1480.50" y="2271.90" width="36.30" height="266.50" fill="#dedc0c" opacity="0.85"/>
<circle cx="1416.8" cy="2284.1" r="4.6" fill="none" stroke="#120a00" stroke-width="1.6"/>
<circle cx="1424.5" cy="2273.8" r="4.6" fill="none" stroke="#120a00" stroke-width="1.6"/>
<circle cx="1430.7" cy="2272.3" r="4.6" fill="none" stroke="#120a00" stroke-width="1.6"/>
<circle cx="1440.0" cy="2276.4" r="4.6" fill="none" stroke="#120a00" stroke-width="1.6"/>
<circle cx="1452.8" cy="2267.1" r="4.6" fill="none" stroke="#120a00" stroke-width="1.6"/>
<circle cx="1452.8" cy="2280.0" r="4.6" fill="none" stroke="#120a00" stroke-width="1.6"/>
<circle cx="1481.1" cy="2270.7" r="4.6" fill="none" stroke="#120a00" stroke-width="1.6"/>
<circle cx="1488.8" cy="2267.1" r="4.6" fill="none" stroke="#120a00" stroke-width="1.6"/>
<circle cx="1497.6" cy="2269.7" r="4.6" fill="none" stroke="#120a00" stroke-width="1.6"/>
<circle cx="1506.8" cy="2268.7" r="4.6" fill="none" stroke="#120a00" stroke-width="1.6"/>
<circle cx="1516.1" cy="2262.0" r="4.6" fill="none" stroke="#120a00" stroke-width="1.6"/>
<circle cx="1516.1" cy="2273.8" r="4.6" fill="none" stroke="#120a00" stroke-width="1.6"/>
<line x1="1435.1" y1="2273.7996" x2="1435.1" y2="2278.9416" stroke="#000" stroke-width="3"/>
<line x1="1423.1" y1="2273.7996" x2="1447.1" y2="2273.7996" stroke="#000" stroke-width="3"/>
<line x1="1423.1" y1="2278.9416" x2="1447.1" y2="2278.9416" stroke="#000" stroke-width="3"/>
<line x1="1498.3" y1="2266.6008" x2="1498.3" y2="2270.7144" stroke="#000" stroke-width="3"/>
<line x1="1486.3" y1="2266.6008" x2="1510.3" y2="2266.6008" stroke="#000" stroke-width="3"/>
<line x1="1486.3" y1="2270.7144" x2="1510.3" y2="2270.7144" stroke="#000" stroke-width="3"/>
<text x="1432.8" y="2572" font-size="23.4" text-anchor="middle" fill="#111">Scr</text>
<text x="1508.9" y="2572" font-size="22.2" text-anchor="middle" fill="#111">SSO5.1</text>
<text transform="translate(1320 2385.7) rotate(-90)" font-size="36.5" text-anchor="middle" fill="#000">Normalised intensity</text>
<text x="1465.7" y="2236.3" font-size="22.5" text-anchor="middle" font-style="italic" fill="#333">P=0.038</text>
<path d="M1432.3 2254.3 V2244 H1499.1 V2254.3" fill="none" stroke="#222" stroke-width="2.2"/>
<text x="1690.5" y="2168.6" font-size="30" fill="#111">Ceramide</text>
<line x1="1698.6" y1="2234.9" x2="1698.6" y2="2542.1" stroke="#000" stroke-width="2.8"/>
<line x1="1687.6" y1="2540.7" x2="1846.2" y2="2540.7" stroke="#000" stroke-width="2.8"/>
<line x1="1687.6" y1="2236.3" x2="1698.6" y2="2236.3" stroke="#000" stroke-width="2.8"/>
<text x="1680.8999999999999" y="2240.25" font-size="27.3" text-anchor="end" fill="#000">20</text>
<line x1="1687.6" y1="2312.4" x2="1698.6" y2="2312.4" stroke="#000" stroke-width="2.8"/>
<text x="1680.8999999999999" y="2316.35" font-size="27.3" text-anchor="end" fill="#000">15</text>
<line x1="1687.6" y1="2388.5" x2="1698.6" y2="2388.5" stroke="#000" stroke-width="2.8"/>
<text x="1680.8999999999999" y="2392.45" font-size="27.3" text-anchor="end" fill="#000">10</text>
<line x1="1687.6" y1="2464.6" x2="1698.6" y2="2464.6" stroke="#000" stroke-width="2.8"/>
<text x="1680.8999999999999" y="2468.5499999999997" font-size="27.3" text-anchor="end" fill="#000">5</text>
<line x1="1687.6" y1="2540.7" x2="1698.6" y2="2540.7" stroke="#000" stroke-width="2.8"/>
<text x="1680.8999999999999" y="2544.6499999999996" font-size="27.3" text-anchor="end" fill="#000">0</text>
<line x1="1740.75" y1="2540.7" x2="1740.75" y2="2552.2" stroke="#000" stroke-width="2.8"/>
<rect x="1721.80" y="2286.70" width="37.90" height="254.00" fill="#c8b89e" stroke="#000" stroke-width="3.2"/>
<line x1="1804.05" y1="2540.7" x2="1804.05" y2="2552.2" stroke="#000" stroke-width="2.8"/>
<rect x="1785.10" y="2326.30" width="37.90" height="214.40" fill="#dedc0c" stroke="#000" stroke-width="3.2"/>
<circle cx="1726.9" cy="2274.8" r="4.6" fill="#fff" stroke="#000" stroke-width="1.7"/>
<circle cx="1740.8" cy="2265.6" r="4.6" fill="#fff" stroke="#000" stroke-width="1.7"/>
<circle cx="1753.6" cy="2273.8" r="4.6" fill="#fff" stroke="#000" stroke-width="1.7"/>
<circle cx="1726.9" cy="2298.0" r="4.6" fill="#fff" stroke="#000" stroke-width="1.7"/>
<circle cx="1740.8" cy="2291.3" r="4.6" fill="#fff" stroke="#000" stroke-width="1.7"/>
<circle cx="1753.6" cy="2294.4" r="4.6" fill="#fff" stroke="#000" stroke-width="1.7"/>
<circle cx="1785.5" cy="2328.8" r="4.6" fill="#fff" stroke="#000" stroke-width="1.7"/>
<circle cx="1797.3" cy="2318.5" r="4.6" fill="#fff" stroke="#000" stroke-width="1.7"/>
<circle cx="1810.2" cy="2320.1" r="4.6" fill="#fff" stroke="#000" stroke-width="1.7"/>
<circle cx="1810.2" cy="2330.4" r="4.6" fill="#fff" stroke="#000" stroke-width="1.7"/>
<circle cx="1823.0" cy="2325.2" r="4.6" fill="#fff" stroke="#000" stroke-width="1.7"/>
<circle cx="1794.8" cy="2326.2" r="4.6" fill="#fff" stroke="#000" stroke-width="1.7"/>
<rect x="1723.40" y="2288.30" width="34.70" height="251.20" fill="#c8b89e" opacity="0.85"/>
<rect x="1786.70" y="2327.90" width="34.70" height="211.60" fill="#dedc0c" opacity="0.85"/>
<circle cx="1726.9" cy="2274.8" r="4.6" fill="none" stroke="#120a00" stroke-width="1.6"/>
<circle cx="1740.8" cy="2265.6" r="4.6" fill="none" stroke="#120a00" stroke-width="1.6"/>
<circle cx="1753.6" cy="2273.8" r="4.6" fill="none" stroke="#120a00" stroke-width="1.6"/>
<circle cx="1726.9" cy="2298.0" r="4.6" fill="none" stroke="#120a00" stroke-width="1.6"/>
<circle cx="1740.8" cy="2291.3" r="4.6" fill="none" stroke="#120a00" stroke-width="1.6"/>
<circle cx="1753.6" cy="2294.4" r="4.6" fill="none" stroke="#120a00" stroke-width="1.6"/>
<circle cx="1785.5" cy="2328.8" r="4.6" fill="none" stroke="#120a00" stroke-width="1.6"/>
<circle cx="1797.3" cy="2318.5" r="4.6" fill="none" stroke="#120a00" stroke-width="1.6"/>
<circle cx="1810.2" cy="2320.1" r="4.6" fill="none" stroke="#120a00" stroke-width="1.6"/>
<circle cx="1810.2" cy="2330.4" r="4.6" fill="none" stroke="#120a00" stroke-width="1.6"/>
<circle cx="1823.0" cy="2325.2" r="4.6" fill="none" stroke="#120a00" stroke-width="1.6"/>
<circle cx="1794.8" cy="2326.2" r="4.6" fill="none" stroke="#120a00" stroke-width="1.6"/>
<line x1="1740.7" y1="2277.399" x2="1740.7" y2="2291.2824" stroke="#000" stroke-width="3"/>
<line x1="1728.7" y1="2277.399" x2="1752.7" y2="2277.399" stroke="#000" stroke-width="3"/>
<line x1="1728.7" y1="2291.2824" x2="1752.7" y2="2291.2824" stroke="#000" stroke-width="3"/>
<line x1="1804" y1="2321.1059999999998" x2="1804" y2="2327.2764" stroke="#000" stroke-width="3"/>
<line x1="1792" y1="2321.1059999999998" x2="1816" y2="2321.1059999999998" stroke="#000" stroke-width="3"/>
<line x1="1792" y1="2327.2764" x2="1816" y2="2327.2764" stroke="#000" stroke-width="3"/>
<text x="1737.4" y="2572" font-size="23.4" text-anchor="middle" fill="#111">Scr</text>
<text x="1814.8" y="2572" font-size="22.2" text-anchor="middle" fill="#111">SSO5.1</text>
<text transform="translate(1633.5 2385.7) rotate(-90)" font-size="36.5" text-anchor="middle" fill="#000">Normalised intensity</text>
<text x="1775" y="2231.1" font-size="25.9" text-anchor="middle" font-style="italic" fill="#333">P&lt;0.0001</text>
<path d="M1737.2 2253.2 V2241.4 H1806.1 V2253.2" fill="none" stroke="#222" stroke-width="2.2"/>
<text x="2019" y="2168.6" font-size="30" fill="#111">Total TAG</text>
<line x1="2015.9" y1="2233.2999999999997" x2="2015.9" y2="2541.0" stroke="#000" stroke-width="2.8"/>
<line x1="2004.9" y1="2539.6" x2="2170" y2="2539.6" stroke="#000" stroke-width="2.8"/>
<line x1="2004.9" y1="2234.7" x2="2015.9" y2="2234.7" stroke="#000" stroke-width="2.8"/>
<text x="1997.2" y="2241.2999999999997" font-size="28.5" text-anchor="end" fill="#000">20</text>
<line x1="2004.9" y1="2310.8" x2="2015.9" y2="2310.8" stroke="#000" stroke-width="2.8"/>
<text x="1997.2" y="2317.4" font-size="28.5" text-anchor="end" fill="#000">15</text>
<line x1="2004.9" y1="2386.9" x2="2015.9" y2="2386.9" stroke="#000" stroke-width="2.8"/>
<text x="1997.2" y="2393.5" font-size="28.5" text-anchor="end" fill="#000">10</text>
<line x1="2004.9" y1="2463" x2="2015.9" y2="2463" stroke="#000" stroke-width="2.8"/>
<text x="1997.2" y="2469.6" font-size="28.5" text-anchor="end" fill="#000">5</text>
<line x1="2004.9" y1="2539.6" x2="2015.9" y2="2539.6" stroke="#000" stroke-width="2.8"/>
<text x="1997.2" y="2546.2" font-size="28.5" text-anchor="end" fill="#000">0</text>
<line x1="2058.55" y1="2539.6" x2="2058.55" y2="2551.1" stroke="#000" stroke-width="2.8"/>
<rect x="2039.60" y="2417.30" width="37.90" height="122.30" fill="#c8b89e" stroke="#000" stroke-width="3.2"/>
<line x1="2123.8500000000004" y1="2539.6" x2="2123.8500000000004" y2="2551.1" stroke="#000" stroke-width="2.8"/>
<rect x="2104.90" y="2391.10" width="37.90" height="148.50" fill="#dedc0c" stroke="#000" stroke-width="3.2"/>
<circle cx="2058.6" cy="2298.0" r="4.6" fill="#fff" stroke="#000" stroke-width="1.7"/>
<circle cx="2058.6" cy="2310.8" r="4.6" fill="#fff" stroke="#000" stroke-width="1.7"/>
<circle cx="2058.6" cy="2439.4" r="4.6" fill="#fff" stroke="#000" stroke-width="1.7"/>
<circle cx="2058.6" cy="2464.1" r="4.6" fill="#fff" stroke="#000" stroke-width="1.7"/>
<circle cx="2051.9" cy="2485.7" r="4.6" fill="#fff" stroke="#000" stroke-width="1.7"/>
<circle cx="2066.3" cy="2483.1" r="4.6" fill="#fff" stroke="#000" stroke-width="1.7"/>
<circle cx="2123.9" cy="2279.5" r="4.6" fill="#fff" stroke="#000" stroke-width="1.7"/>
<circle cx="2123.9" cy="2381.8" r="4.6" fill="#fff" stroke="#000" stroke-width="1.7"/>
<circle cx="2123.9" cy="2397.2" r="4.6" fill="#fff" stroke="#000" stroke-width="1.7"/>
<circle cx="2111.0" cy="2427.5" r="4.6" fill="#fff" stroke="#000" stroke-width="1.7"/>
<circle cx="2123.9" cy="2419.8" r="4.6" fill="#fff" stroke="#000" stroke-width="1.7"/>
<circle cx="2136.7" cy="2421.4" r="4.6" fill="#fff" stroke="#000" stroke-width="1.7"/>
<rect x="2041.20" y="2418.90" width="34.70" height="119.50" fill="#c8b89e" opacity="0.85"/>
<rect x="2106.50" y="2392.70" width="34.70" height="145.70" fill="#dedc0c" opacity="0.85"/>
<circle cx="2058.6" cy="2298.0" r="4.6" fill="none" stroke="#120a00" stroke-width="1.6"/>
<circle cx="2058.6" cy="2310.8" r="4.6" fill="none" stroke="#120a00" stroke-width="1.6"/>
<circle cx="2058.6" cy="2439.4" r="4.6" fill="none" stroke="#120a00" stroke-width="1.6"/>
<circle cx="2058.6" cy="2464.1" r="4.6" fill="none" stroke="#120a00" stroke-width="1.6"/>
<circle cx="2051.9" cy="2485.7" r="4.6" fill="none" stroke="#120a00" stroke-width="1.6"/>
<circle cx="2066.3" cy="2483.1" r="4.6" fill="none" stroke="#120a00" stroke-width="1.6"/>
<circle cx="2123.9" cy="2279.5" r="4.6" fill="none" stroke="#120a00" stroke-width="1.6"/>
<circle cx="2123.9" cy="2381.8" r="4.6" fill="none" stroke="#120a00" stroke-width="1.6"/>
<circle cx="2123.9" cy="2397.2" r="4.6" fill="none" stroke="#120a00" stroke-width="1.6"/>
<circle cx="2111.0" cy="2427.5" r="4.6" fill="none" stroke="#120a00" stroke-width="1.6"/>
<circle cx="2123.9" cy="2419.8" r="4.6" fill="none" stroke="#120a00" stroke-width="1.6"/>
<circle cx="2136.7" cy="2421.4" r="4.6" fill="none" stroke="#120a00" stroke-width="1.6"/>
<line x1="2058.5" y1="2378.6964" x2="2058.5" y2="2449.656" stroke="#000" stroke-width="3"/>
<line x1="2046.5" y1="2378.6964" x2="2070.5" y2="2378.6964" stroke="#000" stroke-width="3"/>
<line x1="2046.5" y1="2449.656" x2="2070.5" y2="2449.656" stroke="#000" stroke-width="3"/>
<line x1="2123.8" y1="2364.813" x2="2123.8" y2="2410.0626" stroke="#000" stroke-width="3"/>
<line x1="2111.8" y1="2364.813" x2="2135.8" y2="2364.813" stroke="#000" stroke-width="3"/>
<line x1="2111.8" y1="2410.0626" x2="2135.8" y2="2410.0626" stroke="#000" stroke-width="3"/>
<text x="2057.8" y="2572" font-size="23.4" text-anchor="middle" fill="#111">Scr</text>
<text x="2126.9" y="2572" font-size="22.2" text-anchor="middle" fill="#111">SSO5.1</text>
<text transform="translate(1951 2385.7) rotate(-90)" font-size="36.5" text-anchor="middle" fill="#000">Normalised intensity</text>

</svg>
</body></html>
